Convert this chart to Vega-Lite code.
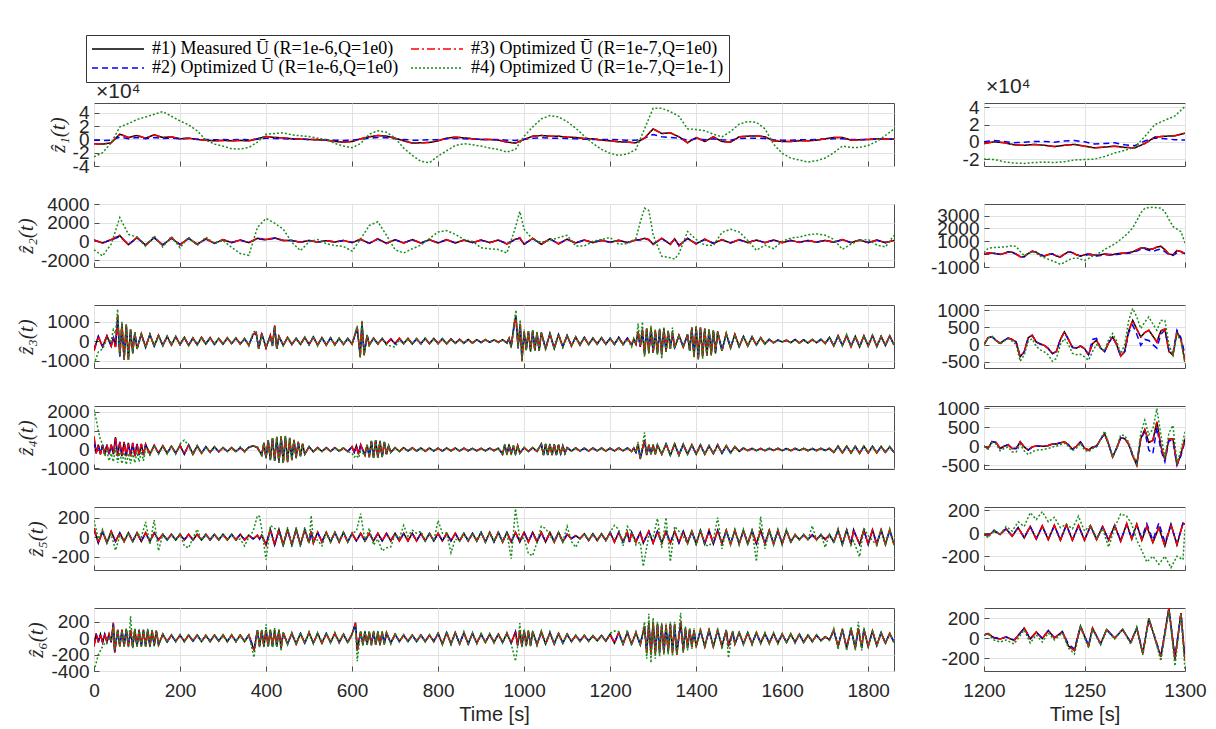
{
"$schema": "https://vega.github.io/schema/vega-lite/v6.json",
"background": "white",
"padding": {"left": 14, "top": 34, "right": 0, "bottom": 0},
"config": {
  "locale": {"number": {"decimal": ".", "thousands": "", "grouping": [3], "currency": ["$", ""], "minus": "-"}},
  "view": {"stroke": "#4d4d4d", "strokeWidth": 1},
  "axis": {"domain": false, "grid": true, "gridColor": "#e2e2e2", "gridWidth": 1, "tickColor": "#4d4d4d", "tickSize": -5, "labelFont": "Liberation Sans", "labelFontSize": 19, "labelColor": "#262626", "labelOverlap": false, "labelFlush": false, "titleColor": "#262626", "titleFontWeight": "normal"},
  "axisY": {"labelPadding": 10, "titleFont": "Liberation Serif", "titleFontStyle": "italic", "titleFontSize": 21, "titlePadding": 4},
  "axisX": {"labelPadding": 15, "titleFont": "Liberation Sans", "titleFontSize": 20, "titlePadding": 4},
  "legend": {"orient": "none", "legendX": -8, "legendY": -68, "columns": 2, "labelFont": "Liberation Serif", "labelFontSize": 18, "labelColor": "#000000", "labelLimit": 400, "symbolType": "M-1,0H5.5", "symbolSize": 256, "symbolStrokeWidth": 1.5, "strokeColor": "#333333", "fillColor": "white", "padding": 5, "rowPadding": 1, "columnPadding": 9, "labelOffset": 43, "cornerRadius": 0}
},
"data": {"values": [
{"r":1,"t":0,"a":-0.65,"b":-0.1,"c":-0.65,"d":-2.6},
{"r":1,"t":20,"a":-0.7,"b":-0.15,"c":-0.7,"d":-2.0},
{"r":1,"t":40,"a":-0.5,"b":-0.1,"c":-0.5,"d":-0.5},
{"r":1,"t":60,"a":0.8,"b":0.35,"c":0.8,"d":1.9},
{"r":1,"t":80,"a":0.3,"b":0.1,"c":0.3,"d":2.4},
{"r":1,"t":100,"a":0.6,"b":0.3,"c":0.6,"d":3.0},
{"r":1,"t":120,"a":0.2,"b":0.1,"c":0.2,"d":3.4},
{"r":1,"t":140,"a":0.7,"b":0.3,"c":0.7,"d":3.8},
{"r":1,"t":160,"a":0.3,"b":0.15,"c":0.3,"d":4.2},
{"r":1,"t":180,"a":0.4,"b":0.2,"c":0.4,"d":3.5},
{"r":1,"t":200,"a":0.1,"b":0.1,"c":0.1,"d":2.8},
{"r":1,"t":220,"a":0.2,"b":0.15,"c":0.2,"d":2.2},
{"r":1,"t":240,"a":0.0,"b":0.05,"c":0.0,"d":1.3},
{"r":1,"t":260,"a":-0.1,"b":0.0,"c":-0.1,"d":-0.1},
{"r":1,"t":280,"a":-0.2,"b":-0.05,"c":-0.2,"d":-0.7},
{"r":1,"t":300,"a":-0.15,"b":0.0,"c":-0.15,"d":-1.0},
{"r":1,"t":320,"a":-0.2,"b":-0.05,"c":-0.2,"d":-1.4},
{"r":1,"t":340,"a":-0.15,"b":0.0,"c":-0.15,"d":-1.45},
{"r":1,"t":360,"a":-0.2,"b":-0.05,"c":-0.2,"d":-1.2},
{"r":1,"t":380,"a":0.1,"b":0.05,"c":0.1,"d":-0.4},
{"r":1,"t":400,"a":0.45,"b":0.2,"c":0.45,"d":0.8},
{"r":1,"t":420,"a":0.3,"b":0.15,"c":0.3,"d":0.9},
{"r":1,"t":440,"a":0.25,"b":0.1,"c":0.25,"d":1.0},
{"r":1,"t":460,"a":0.1,"b":0.05,"c":0.1,"d":0.7},
{"r":1,"t":480,"a":0.05,"b":0.05,"c":0.05,"d":0.55},
{"r":1,"t":500,"a":0.0,"b":0.0,"c":0.0,"d":0.45},
{"r":1,"t":520,"a":-0.05,"b":0.0,"c":-0.05,"d":0.2},
{"r":1,"t":540,"a":-0.1,"b":-0.05,"c":-0.1,"d":0.0},
{"r":1,"t":560,"a":-0.3,"b":-0.1,"c":-0.3,"d":-0.6},
{"r":1,"t":580,"a":-0.4,"b":-0.15,"c":-0.4,"d":-1.0},
{"r":1,"t":600,"a":-0.3,"b":-0.1,"c":-0.3,"d":-1.25},
{"r":1,"t":620,"a":0.1,"b":0.05,"c":0.1,"d":-0.6},
{"r":1,"t":640,"a":0.4,"b":0.2,"c":0.4,"d":0.8},
{"r":1,"t":660,"a":0.6,"b":0.3,"c":0.6,"d":1.3},
{"r":1,"t":680,"a":0.5,"b":0.25,"c":0.5,"d":1.1},
{"r":1,"t":700,"a":0.2,"b":0.1,"c":0.2,"d":0.2},
{"r":1,"t":720,"a":-0.2,"b":0.0,"c":-0.2,"d":-1.3},
{"r":1,"t":740,"a":-0.55,"b":-0.1,"c":-0.55,"d":-2.4},
{"r":1,"t":760,"a":-0.5,"b":-0.1,"c":-0.5,"d":-3.3},
{"r":1,"t":780,"a":-0.45,"b":-0.05,"c":-0.45,"d":-3.5},
{"r":1,"t":800,"a":-0.2,"b":0.0,"c":-0.2,"d":-2.5},
{"r":1,"t":820,"a":0.2,"b":0.1,"c":0.2,"d":-1.7},
{"r":1,"t":840,"a":0.35,"b":0.15,"c":0.35,"d":-0.9},
{"r":1,"t":860,"a":0.25,"b":0.1,"c":0.25,"d":-0.65},
{"r":1,"t":880,"a":0.1,"b":0.05,"c":0.1,"d":-0.8},
{"r":1,"t":900,"a":0.0,"b":0.0,"c":0.0,"d":-1.0},
{"r":1,"t":920,"a":0.0,"b":0.0,"c":0.0,"d":-1.3},
{"r":1,"t":940,"a":-0.1,"b":0.0,"c":-0.1,"d":-1.5},
{"r":1,"t":960,"a":-0.4,"b":-0.1,"c":-0.4,"d":-1.9},
{"r":1,"t":980,"a":-0.55,"b":-0.15,"c":-0.55,"d":-1.5},
{"r":1,"t":1000,"a":0.0,"b":0.05,"c":0.0,"d":0.5},
{"r":1,"t":1020,"a":0.5,"b":0.2,"c":0.5,"d":1.9},
{"r":1,"t":1040,"a":0.6,"b":0.25,"c":0.6,"d":3.1},
{"r":1,"t":1060,"a":0.5,"b":0.2,"c":0.5,"d":3.6},
{"r":1,"t":1080,"a":0.5,"b":0.2,"c":0.5,"d":3.4},
{"r":1,"t":1100,"a":0.35,"b":0.15,"c":0.35,"d":2.7},
{"r":1,"t":1120,"a":0.3,"b":0.1,"c":0.3,"d":1.7},
{"r":1,"t":1140,"a":0.15,"b":0.05,"c":0.15,"d":0.5},
{"r":1,"t":1160,"a":0.1,"b":0.0,"c":0.1,"d":-0.6},
{"r":1,"t":1180,"a":-0.1,"b":0.0,"c":-0.1,"d":-1.5},
{"r":1,"t":1200,"a":-0.2,"b":0.0,"c":-0.2,"d":-2.1},
{"r":1,"t":1220,"a":-0.35,"b":-0.05,"c":-0.35,"d":-2.4},
{"r":1,"t":1240,"a":-0.4,"b":-0.1,"c":-0.4,"d":-2.2},
{"r":1,"t":1260,"a":-0.5,"b":-0.1,"c":-0.5,"d":-1.5},
{"r":1,"t":1280,"a":0.2,"b":0.2,"c":0.2,"d":1.6},
{"r":1,"t":1300,"a":1.6,"b":0.75,"c":1.6,"d":4.7},
{"r":1,"t":1320,"a":0.9,"b":0.4,"c":0.9,"d":4.7},
{"r":1,"t":1340,"a":1.0,"b":0.3,"c":1.0,"d":4.2},
{"r":1,"t":1360,"a":0.4,"b":0.2,"c":0.4,"d":3.5},
{"r":1,"t":1380,"a":-0.5,"b":-0.1,"c":-0.5,"d":1.6},
{"r":1,"t":1400,"a":0.3,"b":0.1,"c":0.3,"d":1.5},
{"r":1,"t":1420,"a":-0.3,"b":-0.05,"c":-0.3,"d":1.3},
{"r":1,"t":1440,"a":0.4,"b":0.1,"c":0.4,"d":0.8},
{"r":1,"t":1460,"a":-0.3,"b":-0.05,"c":-0.3,"d":0.4},
{"r":1,"t":1480,"a":-0.4,"b":-0.1,"c":-0.4,"d":1.2},
{"r":1,"t":1500,"a":0.4,"b":0.15,"c":0.4,"d":2.3},
{"r":1,"t":1520,"a":0.5,"b":0.2,"c":0.5,"d":2.7},
{"r":1,"t":1540,"a":0.55,"b":0.2,"c":0.55,"d":2.6},
{"r":1,"t":1560,"a":0.4,"b":0.15,"c":0.4,"d":1.6},
{"r":1,"t":1580,"a":-0.2,"b":-0.05,"c":-0.2,"d":-0.7},
{"r":1,"t":1600,"a":-0.3,"b":-0.1,"c":-0.3,"d":-2.1},
{"r":1,"t":1620,"a":-0.3,"b":-0.1,"c":-0.3,"d":-2.8},
{"r":1,"t":1640,"a":-0.2,"b":-0.05,"c":-0.2,"d":-3.1},
{"r":1,"t":1660,"a":-0.2,"b":-0.05,"c":-0.2,"d":-3.4},
{"r":1,"t":1680,"a":-0.1,"b":0.0,"c":-0.1,"d":-3.2},
{"r":1,"t":1700,"a":0.1,"b":0.05,"c":0.1,"d":-2.8},
{"r":1,"t":1720,"a":0.3,"b":0.1,"c":0.3,"d":-2.0},
{"r":1,"t":1740,"a":0.3,"b":0.1,"c":0.3,"d":-1.0},
{"r":1,"t":1760,"a":-0.1,"b":0.0,"c":-0.1,"d":-1.2},
{"r":1,"t":1780,"a":-0.05,"b":0.0,"c":-0.05,"d":-1.2},
{"r":1,"t":1800,"a":0.0,"b":0.0,"c":0.0,"d":-0.9},
{"r":1,"t":1820,"a":0.1,"b":0.05,"c":0.1,"d":-0.3},
{"r":1,"t":1840,"a":0.05,"b":0.05,"c":0.05,"d":0.6},
{"r":1,"t":1860,"a":0.1,"b":0.05,"c":0.1,"d":1.6},

{"r":7,"t":1200,"a":-0.2,"b":0.0,"c":-0.2,"d":-2.0},
{"r":7,"t":1205,"a":0.0,"b":0.15,"c":0.0,"d":-2.05},
{"r":7,"t":1210,"a":-0.1,"b":0.05,"c":-0.1,"d":-2.3},
{"r":7,"t":1215,"a":-0.35,"b":-0.1,"c":-0.35,"d":-2.45},
{"r":7,"t":1220,"a":-0.4,"b":-0.05,"c":-0.4,"d":-2.5},
{"r":7,"t":1225,"a":-0.3,"b":0.05,"c":-0.3,"d":-2.4},
{"r":7,"t":1230,"a":-0.4,"b":0.05,"c":-0.4,"d":-2.35},
{"r":7,"t":1235,"a":-0.55,"b":-0.05,"c":-0.55,"d":-2.4},
{"r":7,"t":1240,"a":-0.4,"b":0.1,"c":-0.4,"d":-2.3},
{"r":7,"t":1245,"a":-0.3,"b":0.15,"c":-0.3,"d":-2.1},
{"r":7,"t":1250,"a":-0.5,"b":0.0,"c":-0.5,"d":-2.05},
{"r":7,"t":1255,"a":-0.7,"b":-0.25,"c":-0.7,"d":-2.0},
{"r":7,"t":1260,"a":-0.6,"b":-0.2,"c":-0.6,"d":-1.7},
{"r":7,"t":1265,"a":-0.5,"b":-0.1,"c":-0.5,"d":-1.3},
{"r":7,"t":1270,"a":-0.65,"b":-0.35,"c":-0.65,"d":-1.0},
{"r":7,"t":1275,"a":-0.7,"b":-0.45,"c":-0.7,"d":-0.6},
{"r":7,"t":1280,"a":-0.2,"b":0.1,"c":-0.2,"d":0.6},
{"r":7,"t":1285,"a":0.55,"b":0.45,"c":0.55,"d":2.0},
{"r":7,"t":1290,"a":0.65,"b":0.35,"c":0.65,"d":2.5},
{"r":7,"t":1295,"a":0.7,"b":0.25,"c":0.7,"d":3.0},
{"r":7,"t":1300,"a":1.0,"b":0.2,"c":1.0,"d":4.1},

{"r":2,"t":0,"a":140,"b":120,"c":150,"d":-900},
{"r":2,"t":20,"a":-180,"b":-160,"c":-200,"d":-1570},
{"r":2,"t":40,"a":180,"b":160,"c":200,"d":-300},
{"r":2,"t":60,"a":600,"b":500,"c":650,"d":2550},
{"r":2,"t":80,"a":-360,"b":-320,"c":-400,"d":750},
{"r":2,"t":100,"a":400,"b":360,"c":450,"d":450},
{"r":2,"t":120,"a":-400,"b":-360,"c":-450,"d":-550},
{"r":2,"t":140,"a":400,"b":360,"c":450,"d":600},
{"r":2,"t":160,"a":-400,"b":-360,"c":-450,"d":-600},
{"r":2,"t":180,"a":360,"b":320,"c":400,"d":550},
{"r":2,"t":200,"a":-360,"b":-320,"c":-400,"d":-700},
{"r":2,"t":220,"a":320,"b":280,"c":350,"d":450},
{"r":2,"t":240,"a":-320,"b":-280,"c":-350,"d":-450},
{"r":2,"t":260,"a":270,"b":240,"c":300,"d":450},
{"r":2,"t":280,"a":-230,"b":-200,"c":-250,"d":-200},
{"r":2,"t":300,"a":180,"b":160,"c":200,"d":100},
{"r":2,"t":320,"a":-140,"b":-120,"c":-150,"d":-650},
{"r":2,"t":340,"a":140,"b":120,"c":150,"d":-1300},
{"r":2,"t":360,"a":-140,"b":-120,"c":-150,"d":-1500},
{"r":2,"t":380,"a":320,"b":280,"c":350,"d":1500},
{"r":2,"t":400,"a":180,"b":160,"c":200,"d":2450},
{"r":2,"t":420,"a":360,"b":320,"c":400,"d":1950},
{"r":2,"t":440,"a":90,"b":80,"c":100,"d":1300},
{"r":2,"t":460,"a":90,"b":80,"c":100,"d":-100},
{"r":2,"t":480,"a":-90,"b":-80,"c":-100,"d":-1000},
{"r":2,"t":500,"a":90,"b":80,"c":100,"d":-50},
{"r":2,"t":520,"a":-90,"b":-80,"c":-100,"d":200},
{"r":2,"t":540,"a":70,"b":60,"c":80,"d":-250},
{"r":2,"t":560,"a":-70,"b":-60,"c":-80,"d":-450},
{"r":2,"t":580,"a":90,"b":80,"c":100,"d":-550},
{"r":2,"t":600,"a":-140,"b":-120,"c":-150,"d":-1050},
{"r":2,"t":620,"a":230,"b":200,"c":250,"d":250},
{"r":2,"t":640,"a":-230,"b":-200,"c":-250,"d":1700},
{"r":2,"t":660,"a":270,"b":240,"c":300,"d":2100},
{"r":2,"t":680,"a":-230,"b":-200,"c":-250,"d":650},
{"r":2,"t":700,"a":180,"b":160,"c":200,"d":-900},
{"r":2,"t":720,"a":-180,"b":-160,"c":-200,"d":-1250},
{"r":2,"t":740,"a":180,"b":160,"c":200,"d":-800},
{"r":2,"t":760,"a":-180,"b":-160,"c":-200,"d":-400},
{"r":2,"t":780,"a":180,"b":160,"c":200,"d":300},
{"r":2,"t":800,"a":-180,"b":-160,"c":-200,"d":1000},
{"r":2,"t":820,"a":180,"b":160,"c":200,"d":1150},
{"r":2,"t":840,"a":-180,"b":-160,"c":-200,"d":750},
{"r":2,"t":860,"a":140,"b":120,"c":150,"d":200},
{"r":2,"t":880,"a":-140,"b":-120,"c":-150,"d":0},
{"r":2,"t":900,"a":140,"b":120,"c":150,"d":-700},
{"r":2,"t":920,"a":-140,"b":-120,"c":-150,"d":-800},
{"r":2,"t":940,"a":140,"b":120,"c":150,"d":-870},
{"r":2,"t":960,"a":-270,"b":-240,"c":-300,"d":-1250},
{"r":2,"t":980,"a":230,"b":200,"c":250,"d":1500},
{"r":2,"t":990,"a":360,"b":320,"c":400,"d":3200},
{"r":2,"t":1000,"a":-320,"b":-280,"c":-350,"d":1300},
{"r":2,"t":1020,"a":320,"b":280,"c":350,"d":200},
{"r":2,"t":1040,"a":-320,"b":-280,"c":-350,"d":-100},
{"r":2,"t":1060,"a":270,"b":240,"c":300,"d":100},
{"r":2,"t":1080,"a":-270,"b":-240,"c":-300,"d":400},
{"r":2,"t":1100,"a":230,"b":200,"c":250,"d":640},
{"r":2,"t":1120,"a":-180,"b":-160,"c":-200,"d":-500},
{"r":2,"t":1140,"a":140,"b":120,"c":150,"d":-500},
{"r":2,"t":1160,"a":-140,"b":-120,"c":-150,"d":0},
{"r":2,"t":1180,"a":110,"b":100,"c":120,"d":200},
{"r":2,"t":1200,"a":-110,"b":-100,"c":-120,"d":400},
{"r":2,"t":1220,"a":110,"b":100,"c":120,"d":-300},
{"r":2,"t":1240,"a":-140,"b":-120,"c":-150,"d":-250},
{"r":2,"t":1260,"a":140,"b":120,"c":150,"d":300},
{"r":2,"t":1270,"a":180,"b":160,"c":200,"d":2070},
{"r":2,"t":1280,"a":320,"b":280,"c":350,"d":3550},
{"r":2,"t":1290,"a":180,"b":160,"c":200,"d":3300},
{"r":2,"t":1300,"a":-320,"b":-280,"c":-350,"d":700},
{"r":2,"t":1320,"a":320,"b":280,"c":350,"d":-1600},
{"r":2,"t":1340,"a":-320,"b":-280,"c":-350,"d":-1750},
{"r":2,"t":1350,"a":270,"b":240,"c":300,"d":-1900},
{"r":2,"t":1360,"a":-450,"b":-400,"c":-500,"d":-1300},
{"r":2,"t":1380,"a":320,"b":280,"c":350,"d":1050},
{"r":2,"t":1400,"a":-270,"b":-240,"c":-300,"d":200},
{"r":2,"t":1420,"a":230,"b":200,"c":250,"d":-400},
{"r":2,"t":1440,"a":-230,"b":-200,"c":-250,"d":-450},
{"r":2,"t":1460,"a":180,"b":160,"c":200,"d":950},
{"r":2,"t":1480,"a":-180,"b":-160,"c":-200,"d":1300},
{"r":2,"t":1500,"a":180,"b":160,"c":200,"d":1000},
{"r":2,"t":1520,"a":-140,"b":-120,"c":-150,"d":100},
{"r":2,"t":1540,"a":140,"b":120,"c":150,"d":-950},
{"r":2,"t":1560,"a":-140,"b":-120,"c":-150,"d":-400},
{"r":2,"t":1580,"a":140,"b":120,"c":150,"d":-785},
{"r":2,"t":1600,"a":-140,"b":-120,"c":-150,"d":0},
{"r":2,"t":1620,"a":110,"b":100,"c":120,"d":350},
{"r":2,"t":1640,"a":-110,"b":-100,"c":-120,"d":460},
{"r":2,"t":1660,"a":90,"b":80,"c":100,"d":700},
{"r":2,"t":1680,"a":-90,"b":-80,"c":-100,"d":800},
{"r":2,"t":1700,"a":90,"b":80,"c":100,"d":650},
{"r":2,"t":1720,"a":-90,"b":-80,"c":-100,"d":200},
{"r":2,"t":1740,"a":180,"b":160,"c":200,"d":-850},
{"r":2,"t":1760,"a":-140,"b":-120,"c":-150,"d":-300},
{"r":2,"t":1780,"a":140,"b":120,"c":150,"d":100},
{"r":2,"t":1800,"a":-140,"b":-120,"c":-150,"d":200},
{"r":2,"t":1820,"a":140,"b":120,"c":150,"d":-400},
{"r":2,"t":1840,"a":-140,"b":-120,"c":-150,"d":-600},
{"r":2,"t":1860,"a":90,"b":80,"c":100,"d":640},

{"r":8,"t":1200,"a":0,"b":0,"c":0,"d":100},
{"r":8,"t":1202,"a":80,"b":80,"c":80,"d":450},
{"r":8,"t":1204,"a":90,"b":90,"c":90,"d":500},
{"r":8,"t":1206,"a":40,"b":40,"c":40,"d":520},
{"r":8,"t":1208,"a":-20,"b":-20,"c":-20,"d":540},
{"r":8,"t":1210,"a":60,"b":60,"c":60,"d":560},
{"r":8,"t":1212,"a":170,"b":170,"c":170,"d":600},
{"r":8,"t":1214,"a":150,"b":150,"c":150,"d":650},
{"r":8,"t":1216,"a":0,"b":0,"c":0,"d":600},
{"r":8,"t":1218,"a":-200,"b":-200,"c":-200,"d":200},
{"r":8,"t":1220,"a":-200,"b":-200,"c":-200,"d":-100},
{"r":8,"t":1222,"a":50,"b":50,"c":50,"d":50},
{"r":8,"t":1224,"a":230,"b":230,"c":230,"d":180},
{"r":8,"t":1226,"a":150,"b":150,"c":150,"d":80},
{"r":8,"t":1228,"a":-50,"b":-50,"c":-50,"d":-150},
{"r":8,"t":1230,"a":-150,"b":-150,"c":-150,"d":-280},
{"r":8,"t":1232,"a":-30,"b":-30,"c":-30,"d":-400},
{"r":8,"t":1234,"a":20,"b":20,"c":20,"d":-520},
{"r":8,"t":1236,"a":-150,"b":-150,"c":-150,"d":-650},
{"r":8,"t":1238,"a":-220,"b":-220,"c":-220,"d":-790},
{"r":8,"t":1240,"a":0,"b":0,"c":0,"d":-650},
{"r":8,"t":1242,"a":180,"b":180,"c":180,"d":-450},
{"r":8,"t":1244,"a":120,"b":120,"c":120,"d":-350},
{"r":8,"t":1246,"a":-50,"b":-50,"c":-50,"d":-280},
{"r":8,"t":1248,"a":-150,"b":-150,"c":-150,"d":-400},
{"r":8,"t":1250,"a":-60,"b":-110,"c":-60,"d":-490},
{"r":8,"t":1252,"a":20,"b":-30,"c":20,"d":-350},
{"r":8,"t":1254,"a":-40,"b":-90,"c":-40,"d":-150},
{"r":8,"t":1256,"a":-100,"b":-150,"c":-100,"d":0},
{"r":8,"t":1258,"a":-50,"b":-100,"c":-50,"d":150},
{"r":8,"t":1260,"a":20,"b":-30,"c":20,"d":350},
{"r":8,"t":1262,"a":-20,"b":-70,"c":-20,"d":530},
{"r":8,"t":1264,"a":-40,"b":-90,"c":-40,"d":700},
{"r":8,"t":1266,"a":30,"b":-20,"c":30,"d":900},
{"r":8,"t":1268,"a":60,"b":10,"c":60,"d":1150},
{"r":8,"t":1270,"a":90,"b":40,"c":90,"d":1400},
{"r":8,"t":1272,"a":120,"b":70,"c":120,"d":1700},
{"r":8,"t":1274,"a":180,"b":130,"c":180,"d":2050},
{"r":8,"t":1276,"a":330,"b":250,"c":330,"d":2600},
{"r":8,"t":1278,"a":470,"b":380,"c":470,"d":3200},
{"r":8,"t":1280,"a":470,"b":400,"c":470,"d":3560},
{"r":8,"t":1282,"a":380,"b":300,"c":380,"d":3620},
{"r":8,"t":1284,"a":400,"b":200,"c":400,"d":3640},
{"r":8,"t":1286,"a":550,"b":320,"c":550,"d":3600},
{"r":8,"t":1288,"a":610,"b":400,"c":610,"d":3580},
{"r":8,"t":1290,"a":350,"b":200,"c":350,"d":3300},
{"r":8,"t":1292,"a":0,"b":-50,"c":0,"d":2700},
{"r":8,"t":1294,"a":-50,"b":-100,"c":-50,"d":2150},
{"r":8,"t":1296,"a":280,"b":100,"c":280,"d":1950},
{"r":8,"t":1298,"a":200,"b":150,"c":200,"d":1750},
{"r":8,"t":1300,"a":30,"b":50,"c":30,"d":870},

{"r":3,"t":0,"a":-500,"b":-400,"c":-500,"d":-1200},
{"r":3,"t":10,"a":250,"b":225,"c":250,"d":-550},
{"r":3,"t":20,"a":-300,"b":-270,"c":-300,"d":-400},
{"r":3,"t":30,"a":280,"b":250,"c":280,"d":100},
{"r":3,"t":40,"a":-250,"b":-225,"c":-250,"d":0},
{"r":3,"t":45,"a":200,"b":180,"c":200,"d":600},
{"r":3,"t":50,"a":-300,"b":-270,"c":-300,"d":400},
{"r":3,"t":55,"a":1300,"b":1100,"c":1300,"d":1650},
{"r":3,"t":60,"a":-750,"b":-800,"c":-750,"d":-700},
{"r":3,"t":65,"a":900,"b":800,"c":900,"d":1000},
{"r":3,"t":70,"a":-950,"b":-850,"c":-950,"d":-950},
{"r":3,"t":75,"a":850,"b":760,"c":850,"d":850},
{"r":3,"t":80,"a":-950,"b":-850,"c":-950,"d":-1000},
{"r":3,"t":85,"a":600,"b":540,"c":600,"d":650},
{"r":3,"t":90,"a":-600,"b":-540,"c":-600,"d":-650},
{"r":3,"t":95,"a":450,"b":400,"c":450,"d":470},
{"r":3,"t":100,"a":-400,"b":-360,"c":-400,"d":-420},
{"r":3,"t":110,"a":380,"b":340,"c":380,"d":400},
{"r":3,"t":120,"a":-320,"b":-290,"c":-320,"d":-340},
{"r":3,"t":130,"a":350,"b":315,"c":350,"d":360},
{"r":3,"t":140,"a":-260,"b":-235,"c":-260,"d":-270},
{"r":3,"t":150,"a":300,"b":270,"c":300,"d":310},
{"r":3,"t":160,"a":-230,"b":-205,"c":-230,"d":-240},
{"r":3,"t":170,"a":250,"b":225,"c":250,"d":260},
{"r":3,"t":180,"a":-200,"b":-180,"c":-200,"d":-210},
{"r":3,"t":190,"a":240,"b":215,"c":240,"d":250},
{"r":3,"t":200,"a":-180,"b":-160,"c":-180,"d":-190},
{"r":3,"t":210,"a":200,"b":180,"c":200,"d":210},
{"r":3,"t":220,"a":-220,"b":-200,"c":-220,"d":-230},
{"r":3,"t":230,"a":160,"b":145,"c":160,"d":170},
{"r":3,"t":240,"a":-190,"b":-170,"c":-190,"d":-200},
{"r":3,"t":250,"a":200,"b":180,"c":200,"d":210},
{"r":3,"t":260,"a":-150,"b":-135,"c":-150,"d":-160},
{"r":3,"t":270,"a":180,"b":160,"c":180,"d":190},
{"r":3,"t":280,"a":-170,"b":-155,"c":-170,"d":-180},
{"r":3,"t":290,"a":140,"b":125,"c":140,"d":150},
{"r":3,"t":300,"a":-160,"b":-145,"c":-160,"d":-170},
{"r":3,"t":310,"a":170,"b":155,"c":170,"d":180},
{"r":3,"t":320,"a":-120,"b":-110,"c":-120,"d":-130},
{"r":3,"t":330,"a":160,"b":145,"c":160,"d":170},
{"r":3,"t":340,"a":-150,"b":-135,"c":-150,"d":-160},
{"r":3,"t":350,"a":130,"b":115,"c":130,"d":140},
{"r":3,"t":360,"a":-200,"b":-180,"c":-200,"d":-250},
{"r":3,"t":370,"a":350,"b":315,"c":350,"d":450},
{"r":3,"t":377,"a":450,"b":400,"c":450,"d":550},
{"r":3,"t":383,"a":-400,"b":-360,"c":-400,"d":-450},
{"r":3,"t":390,"a":400,"b":360,"c":400,"d":350},
{"r":3,"t":400,"a":-350,"b":-315,"c":-350,"d":-300},
{"r":3,"t":410,"a":300,"b":270,"c":300,"d":200},
{"r":3,"t":415,"a":-250,"b":-225,"c":-250,"d":-250},
{"r":3,"t":420,"a":800,"b":720,"c":800,"d":750},
{"r":3,"t":425,"a":-400,"b":-360,"c":-400,"d":-400},
{"r":3,"t":430,"a":250,"b":225,"c":250,"d":260},
{"r":3,"t":440,"a":-220,"b":-200,"c":-220,"d":-230},
{"r":3,"t":450,"a":200,"b":180,"c":200,"d":210},
{"r":3,"t":460,"a":-180,"b":-160,"c":-180,"d":-190},
{"r":3,"t":470,"a":150,"b":135,"c":150,"d":160},
{"r":3,"t":480,"a":-170,"b":-155,"c":-170,"d":-180},
{"r":3,"t":490,"a":200,"b":180,"c":200,"d":210},
{"r":3,"t":500,"a":-180,"b":-160,"c":-180,"d":-190},
{"r":3,"t":510,"a":220,"b":200,"c":220,"d":260},
{"r":3,"t":520,"a":-200,"b":-180,"c":-200,"d":-260},
{"r":3,"t":530,"a":180,"b":160,"c":180,"d":190},
{"r":3,"t":540,"a":-200,"b":-180,"c":-200,"d":-210},
{"r":3,"t":550,"a":170,"b":155,"c":170,"d":180},
{"r":3,"t":560,"a":-190,"b":-170,"c":-190,"d":-200},
{"r":3,"t":570,"a":150,"b":135,"c":150,"d":160},
{"r":3,"t":580,"a":-170,"b":-155,"c":-170,"d":-180},
{"r":3,"t":590,"a":140,"b":125,"c":140,"d":150},
{"r":3,"t":600,"a":-150,"b":-135,"c":-150,"d":-160},
{"r":3,"t":612,"a":700,"b":630,"c":700,"d":800},
{"r":3,"t":619,"a":-800,"b":-720,"c":-800,"d":-850},
{"r":3,"t":623,"a":1000,"b":900,"c":1000,"d":1050},
{"r":3,"t":628,"a":-700,"b":-630,"c":-700,"d":-750},
{"r":3,"t":635,"a":300,"b":270,"c":300,"d":350},
{"r":3,"t":640,"a":-200,"b":-180,"c":-200,"d":-220},
{"r":3,"t":650,"a":160,"b":145,"c":160,"d":170},
{"r":3,"t":660,"a":-150,"b":-135,"c":-150,"d":-160},
{"r":3,"t":670,"a":140,"b":125,"c":140,"d":150},
{"r":3,"t":680,"a":-150,"b":-135,"c":-150,"d":-200},
{"r":3,"t":690,"a":120,"b":110,"c":120,"d":-250},
{"r":3,"t":700,"a":-140,"b":-125,"c":-140,"d":-300},
{"r":3,"t":710,"a":150,"b":135,"c":150,"d":50},
{"r":3,"t":720,"a":-130,"b":-115,"c":-130,"d":-140},
{"r":3,"t":730,"a":140,"b":125,"c":140,"d":150},
{"r":3,"t":740,"a":-150,"b":-135,"c":-150,"d":-160},
{"r":3,"t":750,"a":130,"b":115,"c":130,"d":140},
{"r":3,"t":760,"a":-140,"b":-125,"c":-140,"d":-150},
{"r":3,"t":770,"a":150,"b":135,"c":150,"d":160},
{"r":3,"t":780,"a":-130,"b":-115,"c":-130,"d":-140},
{"r":3,"t":790,"a":140,"b":125,"c":140,"d":150},
{"r":3,"t":800,"a":-120,"b":-110,"c":-120,"d":-130},
{"r":3,"t":810,"a":130,"b":115,"c":130,"d":140},
{"r":3,"t":820,"a":-140,"b":-125,"c":-140,"d":-150},
{"r":3,"t":830,"a":120,"b":110,"c":120,"d":130},
{"r":3,"t":840,"a":-110,"b":-100,"c":-110,"d":-120},
{"r":3,"t":850,"a":100,"b":90,"c":100,"d":110},
{"r":3,"t":860,"a":-110,"b":-100,"c":-110,"d":-120},
{"r":3,"t":870,"a":90,"b":80,"c":90,"d":100},
{"r":3,"t":880,"a":-100,"b":-90,"c":-100,"d":-110},
{"r":3,"t":890,"a":80,"b":70,"c":80,"d":90},
{"r":3,"t":900,"a":-70,"b":-65,"c":-70,"d":-80},
{"r":3,"t":910,"a":80,"b":70,"c":80,"d":90},
{"r":3,"t":920,"a":-60,"b":-55,"c":-60,"d":-70},
{"r":3,"t":930,"a":70,"b":65,"c":70,"d":80},
{"r":3,"t":940,"a":-60,"b":-55,"c":-60,"d":-70},
{"r":3,"t":950,"a":80,"b":70,"c":80,"d":90},
{"r":3,"t":960,"a":-100,"b":-90,"c":-100,"d":-110},
{"r":3,"t":965,"a":150,"b":135,"c":150,"d":160},
{"r":3,"t":970,"a":-300,"b":-270,"c":-300,"d":-350},
{"r":3,"t":977,"a":900,"b":800,"c":900,"d":1000},
{"r":3,"t":981,"a":1300,"b":1150,"c":1300,"d":1600},
{"r":3,"t":986,"a":-300,"b":-350,"c":-300,"d":-400},
{"r":3,"t":991,"a":900,"b":800,"c":900,"d":1100},
{"r":3,"t":995,"a":-1000,"b":-900,"c":-1000,"d":-1050},
{"r":3,"t":1000,"a":500,"b":450,"c":500,"d":600},
{"r":3,"t":1005,"a":-450,"b":-405,"c":-450,"d":-500},
{"r":3,"t":1010,"a":520,"b":470,"c":520,"d":560},
{"r":3,"t":1015,"a":-500,"b":-450,"c":-500,"d":-550},
{"r":3,"t":1020,"a":550,"b":495,"c":550,"d":600},
{"r":3,"t":1025,"a":-480,"b":-430,"c":-480,"d":-500},
{"r":3,"t":1030,"a":450,"b":405,"c":450,"d":480},
{"r":3,"t":1035,"a":-500,"b":-450,"c":-500,"d":-520},
{"r":3,"t":1040,"a":450,"b":405,"c":450,"d":470},
{"r":3,"t":1050,"a":-400,"b":-360,"c":-400,"d":-450},
{"r":3,"t":1060,"a":400,"b":360,"c":400,"d":420},
{"r":3,"t":1070,"a":-380,"b":-340,"c":-380,"d":-400},
{"r":3,"t":1080,"a":350,"b":315,"c":350,"d":370},
{"r":3,"t":1090,"a":-300,"b":-270,"c":-300,"d":-320},
{"r":3,"t":1100,"a":300,"b":270,"c":300,"d":320},
{"r":3,"t":1110,"a":-250,"b":-225,"c":-250,"d":-260},
{"r":3,"t":1120,"a":220,"b":200,"c":220,"d":230},
{"r":3,"t":1130,"a":-200,"b":-180,"c":-200,"d":-210},
{"r":3,"t":1140,"a":200,"b":180,"c":200,"d":210},
{"r":3,"t":1150,"a":-180,"b":-160,"c":-180,"d":-190},
{"r":3,"t":1160,"a":160,"b":145,"c":160,"d":170},
{"r":3,"t":1170,"a":-150,"b":-135,"c":-150,"d":-160},
{"r":3,"t":1180,"a":180,"b":160,"c":180,"d":190},
{"r":3,"t":1190,"a":-160,"b":-145,"c":-160,"d":-170},
{"r":3,"t":1200,"a":150,"b":135,"c":150,"d":160},
{"r":3,"t":1210,"a":-170,"b":-155,"c":-170,"d":-180},
{"r":3,"t":1220,"a":200,"b":180,"c":200,"d":150},
{"r":3,"t":1230,"a":-180,"b":-160,"c":-180,"d":-200},
{"r":3,"t":1240,"a":160,"b":145,"c":160,"d":100},
{"r":3,"t":1250,"a":-200,"b":-180,"c":-200,"d":-300},
{"r":3,"t":1255,"a":100,"b":90,"c":100,"d":150},
{"r":3,"t":1260,"a":-150,"b":-135,"c":-150,"d":-100},
{"r":3,"t":1265,"a":500,"b":450,"c":500,"d":900},
{"r":3,"t":1270,"a":-300,"b":-270,"c":-300,"d":-200},
{"r":3,"t":1275,"a":600,"b":540,"c":600,"d":1000},
{"r":3,"t":1280,"a":-700,"b":-630,"c":-700,"d":-800},
{"r":3,"t":1285,"a":650,"b":585,"c":650,"d":700},
{"r":3,"t":1290,"a":-600,"b":-540,"c":-600,"d":-650},
{"r":3,"t":1295,"a":700,"b":630,"c":700,"d":800},
{"r":3,"t":1300,"a":-600,"b":-540,"c":-600,"d":-600},
{"r":3,"t":1305,"a":550,"b":495,"c":550,"d":600},
{"r":3,"t":1310,"a":-650,"b":-585,"c":-650,"d":-700},
{"r":3,"t":1315,"a":600,"b":540,"c":600,"d":650},
{"r":3,"t":1320,"a":-700,"b":-630,"c":-700,"d":-900},
{"r":3,"t":1325,"a":650,"b":585,"c":650,"d":700},
{"r":3,"t":1330,"a":-550,"b":-495,"c":-550,"d":-600},
{"r":3,"t":1335,"a":500,"b":450,"c":500,"d":550},
{"r":3,"t":1340,"a":-400,"b":-360,"c":-400,"d":-400},
{"r":3,"t":1345,"a":450,"b":405,"c":450,"d":700},
{"r":3,"t":1350,"a":-350,"b":-315,"c":-350,"d":-350},
{"r":3,"t":1360,"a":300,"b":270,"c":300,"d":300},
{"r":3,"t":1370,"a":-300,"b":-270,"c":-300,"d":-300},
{"r":3,"t":1380,"a":350,"b":315,"c":350,"d":350},
{"r":3,"t":1385,"a":-500,"b":-450,"c":-500,"d":-500},
{"r":3,"t":1390,"a":700,"b":630,"c":700,"d":700},
{"r":3,"t":1395,"a":-800,"b":-720,"c":-800,"d":-850},
{"r":3,"t":1400,"a":750,"b":675,"c":750,"d":780},
{"r":3,"t":1405,"a":-900,"b":-810,"c":-900,"d":-950},
{"r":3,"t":1410,"a":700,"b":630,"c":700,"d":700},
{"r":3,"t":1415,"a":-800,"b":-720,"c":-800,"d":-900},
{"r":3,"t":1420,"a":650,"b":585,"c":650,"d":650},
{"r":3,"t":1425,"a":-750,"b":-675,"c":-750,"d":-800},
{"r":3,"t":1430,"a":600,"b":540,"c":600,"d":600},
{"r":3,"t":1435,"a":-700,"b":-630,"c":-700,"d":-750},
{"r":3,"t":1440,"a":550,"b":495,"c":550,"d":550},
{"r":3,"t":1445,"a":-600,"b":-540,"c":-600,"d":-650},
{"r":3,"t":1450,"a":500,"b":450,"c":500,"d":500},
{"r":3,"t":1460,"a":-500,"b":-450,"c":-500,"d":-500},
{"r":3,"t":1470,"a":400,"b":360,"c":400,"d":400},
{"r":3,"t":1480,"a":-350,"b":-315,"c":-350,"d":-350},
{"r":3,"t":1490,"a":350,"b":315,"c":350,"d":350},
{"r":3,"t":1500,"a":-280,"b":-250,"c":-280,"d":-280},
{"r":3,"t":1510,"a":250,"b":225,"c":250,"d":250},
{"r":3,"t":1520,"a":-250,"b":-225,"c":-250,"d":-250},
{"r":3,"t":1530,"a":230,"b":205,"c":230,"d":230},
{"r":3,"t":1540,"a":-200,"b":-180,"c":-200,"d":-200},
{"r":3,"t":1550,"a":180,"b":160,"c":180,"d":180},
{"r":3,"t":1560,"a":-150,"b":-135,"c":-150,"d":-150},
{"r":3,"t":1570,"a":100,"b":90,"c":100,"d":100},
{"r":3,"t":1580,"a":-90,"b":-80,"c":-90,"d":-90},
{"r":3,"t":1590,"a":60,"b":55,"c":60,"d":60},
{"r":3,"t":1600,"a":-40,"b":-35,"c":-40,"d":-40},
{"r":3,"t":1610,"a":50,"b":45,"c":50,"d":50},
{"r":3,"t":1620,"a":-80,"b":-70,"c":-80,"d":-80},
{"r":3,"t":1630,"a":90,"b":80,"c":90,"d":90},
{"r":3,"t":1640,"a":-100,"b":-90,"c":-100,"d":-100},
{"r":3,"t":1650,"a":80,"b":70,"c":80,"d":80},
{"r":3,"t":1660,"a":-100,"b":-90,"c":-100,"d":-100},
{"r":3,"t":1670,"a":90,"b":80,"c":90,"d":90},
{"r":3,"t":1680,"a":-80,"b":-70,"c":-80,"d":-80},
{"r":3,"t":1690,"a":100,"b":90,"c":100,"d":100},
{"r":3,"t":1700,"a":-120,"b":-110,"c":-120,"d":-120},
{"r":3,"t":1710,"a":200,"b":180,"c":200,"d":200},
{"r":3,"t":1720,"a":-250,"b":-225,"c":-250,"d":-250},
{"r":3,"t":1730,"a":280,"b":250,"c":280,"d":280},
{"r":3,"t":1740,"a":-230,"b":-205,"c":-230,"d":-230},
{"r":3,"t":1750,"a":300,"b":270,"c":300,"d":350},
{"r":3,"t":1760,"a":-280,"b":-250,"c":-280,"d":-300},
{"r":3,"t":1770,"a":250,"b":225,"c":250,"d":250},
{"r":3,"t":1780,"a":-300,"b":-270,"c":-300,"d":-300},
{"r":3,"t":1790,"a":280,"b":250,"c":280,"d":280},
{"r":3,"t":1800,"a":-250,"b":-225,"c":-250,"d":-250},
{"r":3,"t":1810,"a":300,"b":270,"c":300,"d":300},
{"r":3,"t":1820,"a":-280,"b":-250,"c":-280,"d":-280},
{"r":3,"t":1830,"a":250,"b":225,"c":250,"d":250},
{"r":3,"t":1840,"a":-220,"b":-200,"c":-220,"d":-220},
{"r":3,"t":1850,"a":280,"b":250,"c":280,"d":280},
{"r":3,"t":1860,"a":-200,"b":-180,"c":-200,"d":-200},

{"r":9,"t":1200,"a":0,"b":0,"c":0,"d":0},
{"r":9,"t":1202,"a":200,"b":200,"c":200,"d":200},
{"r":9,"t":1204,"a":230,"b":230,"c":230,"d":230},
{"r":9,"t":1206,"a":125,"b":125,"c":125,"d":100},
{"r":9,"t":1208,"a":40,"b":40,"c":40,"d":20},
{"r":9,"t":1210,"a":120,"b":120,"c":120,"d":100},
{"r":9,"t":1212,"a":190,"b":190,"c":190,"d":170},
{"r":9,"t":1214,"a":150,"b":150,"c":150,"d":100},
{"r":9,"t":1216,"a":75,"b":75,"c":75,"d":0},
{"r":9,"t":1218,"a":-350,"b":-350,"c":-350,"d":-480},
{"r":9,"t":1220,"a":-210,"b":-210,"c":-210,"d":-300},
{"r":9,"t":1222,"a":200,"b":200,"c":200,"d":100},
{"r":9,"t":1224,"a":270,"b":270,"c":270,"d":170},
{"r":9,"t":1226,"a":75,"b":75,"c":75,"d":-50},
{"r":9,"t":1228,"a":20,"b":20,"c":20,"d":-150},
{"r":9,"t":1230,"a":-20,"b":-20,"c":-20,"d":-210},
{"r":9,"t":1232,"a":-115,"b":-115,"c":-115,"d":-300},
{"r":9,"t":1234,"a":-260,"b":-260,"c":-260,"d":-480},
{"r":9,"t":1236,"a":-200,"b":-200,"c":-200,"d":-400},
{"r":9,"t":1238,"a":150,"b":150,"c":150,"d":0},
{"r":9,"t":1240,"a":370,"b":370,"c":370,"d":175},
{"r":9,"t":1242,"a":150,"b":150,"c":150,"d":0},
{"r":9,"t":1244,"a":-80,"b":-80,"c":-80,"d":-250},
{"r":9,"t":1246,"a":-100,"b":-100,"c":-100,"d":-290},
{"r":9,"t":1248,"a":-40,"b":-40,"c":-40,"d":-280},
{"r":9,"t":1250,"a":-115,"b":-115,"c":-115,"d":-350},
{"r":9,"t":1252,"a":-290,"b":-290,"c":-290,"d":-450},
{"r":9,"t":1254,"a":30,"b":150,"c":30,"d":-200},
{"r":9,"t":1256,"a":125,"b":180,"c":125,"d":0},
{"r":9,"t":1258,"a":-100,"b":-100,"c":-100,"d":-100},
{"r":9,"t":1260,"a":-200,"b":-200,"c":-200,"d":-170},
{"r":9,"t":1262,"a":50,"b":50,"c":50,"d":150},
{"r":9,"t":1264,"a":220,"b":220,"c":220,"d":320},
{"r":9,"t":1266,"a":0,"b":0,"c":0,"d":100},
{"r":9,"t":1268,"a":-330,"b":-330,"c":-330,"d":-260},
{"r":9,"t":1270,"a":-200,"b":-200,"c":-200,"d":0},
{"r":9,"t":1272,"a":400,"b":350,"c":400,"d":700},
{"r":9,"t":1274,"a":700,"b":560,"c":700,"d":1045},
{"r":9,"t":1276,"a":450,"b":300,"c":450,"d":800},
{"r":9,"t":1278,"a":220,"b":-20,"c":220,"d":465},
{"r":9,"t":1280,"a":350,"b":150,"c":350,"d":650},
{"r":9,"t":1282,"a":415,"b":120,"c":415,"d":800},
{"r":9,"t":1284,"a":250,"b":0,"c":250,"d":600},
{"r":9,"t":1286,"a":75,"b":-100,"c":75,"d":415},
{"r":9,"t":1288,"a":400,"b":300,"c":400,"d":700},
{"r":9,"t":1290,"a":450,"b":420,"c":450,"d":700},
{"r":9,"t":1292,"a":-200,"b":-150,"c":-200,"d":0},
{"r":9,"t":1294,"a":-300,"b":-250,"c":-300,"d":-310},
{"r":9,"t":1296,"a":370,"b":415,"c":370,"d":300},
{"r":9,"t":1298,"a":150,"b":200,"c":150,"d":100},
{"r":9,"t":1300,"a":-500,"b":-300,"c":-500,"d":-550},

{"r":4,"t":0,"a":650,"b":400,"c":700,"d":2100},
{"r":4,"t":5,"a":-200,"b":-150,"c":-200,"d":1600},
{"r":4,"t":10,"a":250,"b":225,"c":250,"d":1000},
{"r":4,"t":15,"a":-250,"b":-225,"c":-250,"d":500},
{"r":4,"t":20,"a":250,"b":225,"c":250,"d":300},
{"r":4,"t":25,"a":-250,"b":-225,"c":-250,"d":-350},
{"r":4,"t":30,"a":250,"b":225,"c":250,"d":-100},
{"r":4,"t":35,"a":-250,"b":-225,"c":-250,"d":-600},
{"r":4,"t":40,"a":250,"b":225,"c":250,"d":-200},
{"r":4,"t":45,"a":-250,"b":-225,"c":-250,"d":-650},
{"r":4,"t":50,"a":650,"b":580,"c":650,"d":100},
{"r":4,"t":55,"a":-350,"b":-315,"c":-350,"d":-700},
{"r":4,"t":60,"a":400,"b":360,"c":400,"d":-150},
{"r":4,"t":65,"a":-350,"b":-315,"c":-350,"d":-750},
{"r":4,"t":70,"a":400,"b":360,"c":400,"d":-150},
{"r":4,"t":75,"a":-350,"b":-315,"c":-350,"d":-800},
{"r":4,"t":80,"a":350,"b":315,"c":350,"d":-200},
{"r":4,"t":85,"a":-350,"b":-315,"c":-350,"d":-750},
{"r":4,"t":90,"a":350,"b":315,"c":350,"d":-150},
{"r":4,"t":95,"a":-350,"b":-315,"c":-350,"d":-700},
{"r":4,"t":100,"a":300,"b":270,"c":300,"d":-150},
{"r":4,"t":105,"a":-300,"b":-270,"c":-300,"d":-650},
{"r":4,"t":110,"a":300,"b":270,"c":300,"d":-100},
{"r":4,"t":115,"a":-300,"b":-270,"c":-300,"d":-600},
{"r":4,"t":120,"a":280,"b":250,"c":280,"d":50},
{"r":4,"t":130,"a":-250,"b":-225,"c":-250,"d":-300},
{"r":4,"t":140,"a":220,"b":200,"c":220,"d":200},
{"r":4,"t":150,"a":-200,"b":-180,"c":-200,"d":-250},
{"r":4,"t":160,"a":200,"b":180,"c":200,"d":150},
{"r":4,"t":170,"a":-200,"b":-180,"c":-200,"d":-250},
{"r":4,"t":180,"a":180,"b":160,"c":180,"d":200},
{"r":4,"t":190,"a":-200,"b":-180,"c":-200,"d":-250},
{"r":4,"t":200,"a":220,"b":200,"c":220,"d":300},
{"r":4,"t":210,"a":-250,"b":-225,"c":-250,"d":500},
{"r":4,"t":220,"a":250,"b":225,"c":250,"d":200},
{"r":4,"t":230,"a":-250,"b":-225,"c":-250,"d":-300},
{"r":4,"t":240,"a":200,"b":180,"c":200,"d":200},
{"r":4,"t":250,"a":-200,"b":-180,"c":-200,"d":-200},
{"r":4,"t":260,"a":150,"b":135,"c":150,"d":150},
{"r":4,"t":270,"a":-150,"b":-135,"c":-150,"d":-150},
{"r":4,"t":280,"a":150,"b":135,"c":150,"d":120},
{"r":4,"t":290,"a":-120,"b":-110,"c":-120,"d":-100},
{"r":4,"t":300,"a":100,"b":90,"c":100,"d":100},
{"r":4,"t":310,"a":-100,"b":-90,"c":-100,"d":-100},
{"r":4,"t":320,"a":100,"b":90,"c":100,"d":120},
{"r":4,"t":330,"a":-100,"b":-90,"c":-100,"d":-150},
{"r":4,"t":340,"a":100,"b":90,"c":100,"d":150},
{"r":4,"t":350,"a":-100,"b":-90,"c":-100,"d":-150},
{"r":4,"t":360,"a":120,"b":110,"c":120,"d":120},
{"r":4,"t":370,"a":200,"b":180,"c":200,"d":200},
{"r":4,"t":380,"a":100,"b":90,"c":100,"d":150},
{"r":4,"t":390,"a":-300,"b":-270,"c":-300,"d":-350},
{"r":4,"t":395,"a":350,"b":315,"c":350,"d":370},
{"r":4,"t":400,"a":-450,"b":-405,"c":-450,"d":-470},
{"r":4,"t":405,"a":500,"b":450,"c":500,"d":520},
{"r":4,"t":410,"a":-550,"b":-500,"c":-550,"d":-580},
{"r":4,"t":415,"a":600,"b":540,"c":600,"d":630},
{"r":4,"t":420,"a":-600,"b":-540,"c":-600,"d":-630},
{"r":4,"t":425,"a":650,"b":585,"c":650,"d":680},
{"r":4,"t":430,"a":-700,"b":-630,"c":-700,"d":-730},
{"r":4,"t":435,"a":700,"b":630,"c":700,"d":730},
{"r":4,"t":440,"a":-700,"b":-630,"c":-700,"d":-730},
{"r":4,"t":445,"a":700,"b":630,"c":700,"d":730},
{"r":4,"t":450,"a":-650,"b":-585,"c":-650,"d":-680},
{"r":4,"t":455,"a":600,"b":540,"c":600,"d":630},
{"r":4,"t":460,"a":-550,"b":-500,"c":-550,"d":-580},
{"r":4,"t":465,"a":500,"b":450,"c":500,"d":520},
{"r":4,"t":470,"a":-450,"b":-405,"c":-450,"d":-470},
{"r":4,"t":475,"a":400,"b":360,"c":400,"d":420},
{"r":4,"t":480,"a":-350,"b":-315,"c":-350,"d":-370},
{"r":4,"t":485,"a":300,"b":270,"c":300,"d":310},
{"r":4,"t":490,"a":-250,"b":-225,"c":-250,"d":-260},
{"r":4,"t":500,"a":150,"b":135,"c":150,"d":160},
{"r":4,"t":510,"a":-120,"b":-110,"c":-120,"d":-130},
{"r":4,"t":520,"a":100,"b":90,"c":100,"d":110},
{"r":4,"t":530,"a":-100,"b":-90,"c":-100,"d":-110},
{"r":4,"t":540,"a":100,"b":90,"c":100,"d":110},
{"r":4,"t":550,"a":-90,"b":-80,"c":-90,"d":-100},
{"r":4,"t":560,"a":100,"b":90,"c":100,"d":110},
{"r":4,"t":570,"a":-80,"b":-70,"c":-80,"d":-90},
{"r":4,"t":580,"a":80,"b":70,"c":80,"d":90},
{"r":4,"t":590,"a":-100,"b":-90,"c":-100,"d":-110},
{"r":4,"t":600,"a":150,"b":135,"c":150,"d":-200},
{"r":4,"t":605,"a":-150,"b":-135,"c":-150,"d":-400},
{"r":4,"t":610,"a":200,"b":180,"c":200,"d":-300},
{"r":4,"t":615,"a":-250,"b":-225,"c":-250,"d":-450},
{"r":4,"t":620,"a":250,"b":225,"c":250,"d":-100},
{"r":4,"t":630,"a":-300,"b":-270,"c":-300,"d":-300},
{"r":4,"t":635,"a":250,"b":225,"c":250,"d":300},
{"r":4,"t":640,"a":-400,"b":-360,"c":-400,"d":-420},
{"r":4,"t":645,"a":450,"b":405,"c":450,"d":470},
{"r":4,"t":650,"a":-450,"b":-405,"c":-450,"d":-470},
{"r":4,"t":655,"a":500,"b":450,"c":500,"d":550},
{"r":4,"t":660,"a":-450,"b":-405,"c":-450,"d":-500},
{"r":4,"t":665,"a":450,"b":405,"c":450,"d":470},
{"r":4,"t":670,"a":-400,"b":-360,"c":-400,"d":-420},
{"r":4,"t":675,"a":400,"b":360,"c":400,"d":450},
{"r":4,"t":680,"a":-250,"b":-225,"c":-250,"d":-260},
{"r":4,"t":685,"a":200,"b":180,"c":200,"d":210},
{"r":4,"t":690,"a":-150,"b":-135,"c":-150,"d":-160},
{"r":4,"t":700,"a":100,"b":90,"c":100,"d":110},
{"r":4,"t":710,"a":-100,"b":-90,"c":-100,"d":-110},
{"r":4,"t":720,"a":100,"b":90,"c":100,"d":110},
{"r":4,"t":730,"a":-80,"b":-70,"c":-80,"d":-90},
{"r":4,"t":740,"a":90,"b":80,"c":90,"d":100},
{"r":4,"t":750,"a":-80,"b":-70,"c":-80,"d":-90},
{"r":4,"t":760,"a":80,"b":70,"c":80,"d":90},
{"r":4,"t":770,"a":-90,"b":-80,"c":-90,"d":-100},
{"r":4,"t":780,"a":80,"b":70,"c":80,"d":90},
{"r":4,"t":790,"a":-80,"b":-70,"c":-80,"d":-90},
{"r":4,"t":800,"a":70,"b":65,"c":70,"d":80},
{"r":4,"t":810,"a":-80,"b":-70,"c":-80,"d":-90},
{"r":4,"t":820,"a":80,"b":70,"c":80,"d":90},
{"r":4,"t":830,"a":-70,"b":-65,"c":-70,"d":-80},
{"r":4,"t":840,"a":80,"b":70,"c":80,"d":90},
{"r":4,"t":850,"a":-80,"b":-70,"c":-80,"d":-90},
{"r":4,"t":860,"a":70,"b":65,"c":70,"d":80},
{"r":4,"t":870,"a":-70,"b":-65,"c":-70,"d":-80},
{"r":4,"t":880,"a":60,"b":55,"c":60,"d":70},
{"r":4,"t":890,"a":-70,"b":-65,"c":-70,"d":-80},
{"r":4,"t":900,"a":60,"b":55,"c":60,"d":70},
{"r":4,"t":910,"a":-70,"b":-65,"c":-70,"d":-80},
{"r":4,"t":920,"a":70,"b":65,"c":70,"d":80},
{"r":4,"t":930,"a":-60,"b":-55,"c":-60,"d":-70},
{"r":4,"t":940,"a":70,"b":65,"c":70,"d":80},
{"r":4,"t":950,"a":-250,"b":-225,"c":-250,"d":-300},
{"r":4,"t":955,"a":250,"b":225,"c":250,"d":300},
{"r":4,"t":960,"a":-250,"b":-225,"c":-250,"d":-300},
{"r":4,"t":965,"a":250,"b":225,"c":250,"d":300},
{"r":4,"t":970,"a":-250,"b":-225,"c":-250,"d":-300},
{"r":4,"t":975,"a":200,"b":180,"c":200,"d":250},
{"r":4,"t":980,"a":-250,"b":-225,"c":-250,"d":-300},
{"r":4,"t":985,"a":200,"b":180,"c":200,"d":250},
{"r":4,"t":990,"a":-200,"b":-180,"c":-200,"d":-200},
{"r":4,"t":1000,"a":100,"b":90,"c":100,"d":110},
{"r":4,"t":1010,"a":-100,"b":-90,"c":-100,"d":-110},
{"r":4,"t":1020,"a":100,"b":90,"c":100,"d":110},
{"r":4,"t":1030,"a":-100,"b":-90,"c":-100,"d":-110},
{"r":4,"t":1040,"a":300,"b":270,"c":300,"d":310},
{"r":4,"t":1045,"a":-300,"b":-270,"c":-300,"d":-310},
{"r":4,"t":1050,"a":300,"b":270,"c":300,"d":310},
{"r":4,"t":1055,"a":-300,"b":-270,"c":-300,"d":-310},
{"r":4,"t":1060,"a":300,"b":270,"c":300,"d":310},
{"r":4,"t":1065,"a":-300,"b":-270,"c":-300,"d":-310},
{"r":4,"t":1070,"a":280,"b":250,"c":280,"d":290},
{"r":4,"t":1075,"a":-300,"b":-270,"c":-300,"d":-310},
{"r":4,"t":1080,"a":250,"b":225,"c":250,"d":260},
{"r":4,"t":1085,"a":-250,"b":-225,"c":-250,"d":-260},
{"r":4,"t":1090,"a":200,"b":180,"c":200,"d":210},
{"r":4,"t":1095,"a":-200,"b":-180,"c":-200,"d":-210},
{"r":4,"t":1100,"a":100,"b":90,"c":100,"d":110},
{"r":4,"t":1110,"a":-80,"b":-70,"c":-80,"d":-90},
{"r":4,"t":1120,"a":80,"b":70,"c":80,"d":90},
{"r":4,"t":1130,"a":-80,"b":-70,"c":-80,"d":-90},
{"r":4,"t":1140,"a":70,"b":65,"c":70,"d":80},
{"r":4,"t":1150,"a":-80,"b":-70,"c":-80,"d":-90},
{"r":4,"t":1160,"a":80,"b":70,"c":80,"d":90},
{"r":4,"t":1170,"a":-70,"b":-65,"c":-70,"d":-80},
{"r":4,"t":1180,"a":80,"b":70,"c":80,"d":90},
{"r":4,"t":1190,"a":-80,"b":-70,"c":-80,"d":-90},
{"r":4,"t":1200,"a":70,"b":65,"c":70,"d":80},
{"r":4,"t":1210,"a":-80,"b":-70,"c":-80,"d":-90},
{"r":4,"t":1220,"a":80,"b":70,"c":80,"d":90},
{"r":4,"t":1230,"a":-70,"b":-65,"c":-70,"d":-80},
{"r":4,"t":1240,"a":80,"b":70,"c":80,"d":90},
{"r":4,"t":1250,"a":-100,"b":-90,"c":-100,"d":-110},
{"r":4,"t":1255,"a":80,"b":70,"c":80,"d":90},
{"r":4,"t":1260,"a":-150,"b":-135,"c":-150,"d":-160},
{"r":4,"t":1265,"a":300,"b":270,"c":300,"d":400},
{"r":4,"t":1270,"a":-500,"b":-450,"c":-500,"d":-500},
{"r":4,"t":1280,"a":500,"b":450,"c":500,"d":900},
{"r":4,"t":1285,"a":-300,"b":-270,"c":-300,"d":-250},
{"r":4,"t":1290,"a":250,"b":225,"c":250,"d":260},
{"r":4,"t":1295,"a":-250,"b":-225,"c":-250,"d":-260},
{"r":4,"t":1300,"a":250,"b":225,"c":250,"d":260},
{"r":4,"t":1305,"a":-250,"b":-225,"c":-250,"d":-260},
{"r":4,"t":1310,"a":250,"b":225,"c":250,"d":260},
{"r":4,"t":1320,"a":-250,"b":-225,"c":-250,"d":-260},
{"r":4,"t":1330,"a":300,"b":270,"c":300,"d":310},
{"r":4,"t":1340,"a":-300,"b":-270,"c":-300,"d":-310},
{"r":4,"t":1350,"a":300,"b":270,"c":300,"d":310},
{"r":4,"t":1360,"a":-300,"b":-270,"c":-300,"d":-310},
{"r":4,"t":1370,"a":280,"b":250,"c":280,"d":290},
{"r":4,"t":1380,"a":-250,"b":-225,"c":-250,"d":-260},
{"r":4,"t":1390,"a":250,"b":225,"c":250,"d":260},
{"r":4,"t":1400,"a":-250,"b":-225,"c":-250,"d":-260},
{"r":4,"t":1410,"a":250,"b":225,"c":250,"d":260},
{"r":4,"t":1420,"a":-250,"b":-225,"c":-250,"d":-260},
{"r":4,"t":1430,"a":200,"b":180,"c":200,"d":210},
{"r":4,"t":1440,"a":-220,"b":-200,"c":-220,"d":-230},
{"r":4,"t":1450,"a":250,"b":225,"c":250,"d":260},
{"r":4,"t":1460,"a":-200,"b":-180,"c":-200,"d":-210},
{"r":4,"t":1470,"a":200,"b":180,"c":200,"d":210},
{"r":4,"t":1480,"a":-180,"b":-160,"c":-180,"d":-190},
{"r":4,"t":1490,"a":150,"b":135,"c":150,"d":160},
{"r":4,"t":1500,"a":-100,"b":-90,"c":-100,"d":-110},
{"r":4,"t":1510,"a":80,"b":70,"c":80,"d":90},
{"r":4,"t":1520,"a":-60,"b":-55,"c":-60,"d":-70},
{"r":4,"t":1530,"a":60,"b":55,"c":60,"d":70},
{"r":4,"t":1540,"a":-60,"b":-55,"c":-60,"d":-70},
{"r":4,"t":1550,"a":50,"b":45,"c":50,"d":60},
{"r":4,"t":1560,"a":-60,"b":-55,"c":-60,"d":-70},
{"r":4,"t":1570,"a":60,"b":55,"c":60,"d":70},
{"r":4,"t":1580,"a":-50,"b":-45,"c":-50,"d":-60},
{"r":4,"t":1590,"a":60,"b":55,"c":60,"d":70},
{"r":4,"t":1600,"a":-60,"b":-55,"c":-60,"d":-70},
{"r":4,"t":1610,"a":50,"b":45,"c":50,"d":60},
{"r":4,"t":1620,"a":-60,"b":-55,"c":-60,"d":-70},
{"r":4,"t":1630,"a":60,"b":55,"c":60,"d":70},
{"r":4,"t":1640,"a":-50,"b":-45,"c":-50,"d":-60},
{"r":4,"t":1650,"a":60,"b":55,"c":60,"d":70},
{"r":4,"t":1660,"a":-60,"b":-55,"c":-60,"d":-70},
{"r":4,"t":1670,"a":50,"b":45,"c":50,"d":60},
{"r":4,"t":1680,"a":-60,"b":-55,"c":-60,"d":-70},
{"r":4,"t":1690,"a":60,"b":55,"c":60,"d":70},
{"r":4,"t":1700,"a":-50,"b":-45,"c":-50,"d":-60},
{"r":4,"t":1710,"a":60,"b":55,"c":60,"d":70},
{"r":4,"t":1720,"a":-150,"b":-135,"c":-150,"d":-160},
{"r":4,"t":1730,"a":180,"b":160,"c":180,"d":190},
{"r":4,"t":1740,"a":-180,"b":-160,"c":-180,"d":-190},
{"r":4,"t":1750,"a":180,"b":160,"c":180,"d":190},
{"r":4,"t":1760,"a":-180,"b":-160,"c":-180,"d":-190},
{"r":4,"t":1770,"a":170,"b":155,"c":170,"d":180},
{"r":4,"t":1780,"a":-200,"b":-180,"c":-200,"d":-210},
{"r":4,"t":1790,"a":180,"b":160,"c":180,"d":190},
{"r":4,"t":1800,"a":-180,"b":-160,"c":-180,"d":-190},
{"r":4,"t":1810,"a":170,"b":155,"c":170,"d":180},
{"r":4,"t":1820,"a":-180,"b":-160,"c":-180,"d":-190},
{"r":4,"t":1830,"a":160,"b":145,"c":160,"d":170},
{"r":4,"t":1840,"a":-150,"b":-135,"c":-150,"d":-160},
{"r":4,"t":1850,"a":150,"b":135,"c":150,"d":160},
{"r":4,"t":1860,"a":-150,"b":-135,"c":-150,"d":-160},

{"r":10,"t":1200,"a":0,"b":0,"c":0,"d":0},
{"r":10,"t":1202,"a":-60,"b":-60,"c":-60,"d":-80},
{"r":10,"t":1204,"a":120,"b":120,"c":120,"d":100},
{"r":10,"t":1206,"a":100,"b":100,"c":100,"d":60},
{"r":10,"t":1208,"a":-60,"b":-60,"c":-60,"d":-120},
{"r":10,"t":1210,"a":0,"b":0,"c":0,"d":-60},
{"r":10,"t":1212,"a":40,"b":40,"c":40,"d":-20},
{"r":10,"t":1214,"a":-60,"b":-60,"c":-60,"d":-150},
{"r":10,"t":1216,"a":-60,"b":-60,"c":-60,"d":-150},
{"r":10,"t":1218,"a":115,"b":115,"c":115,"d":50},
{"r":10,"t":1220,"a":-20,"b":-20,"c":-20,"d":-120},
{"r":10,"t":1222,"a":-100,"b":-100,"c":-100,"d":-220},
{"r":10,"t":1224,"a":-20,"b":-20,"c":-20,"d":-150},
{"r":10,"t":1226,"a":10,"b":10,"c":10,"d":-100},
{"r":10,"t":1228,"a":0,"b":0,"c":0,"d":-100},
{"r":10,"t":1230,"a":0,"b":0,"c":0,"d":-80},
{"r":10,"t":1232,"a":20,"b":20,"c":20,"d":-60},
{"r":10,"t":1234,"a":60,"b":60,"c":60,"d":-20},
{"r":10,"t":1236,"a":60,"b":60,"c":60,"d":0},
{"r":10,"t":1238,"a":90,"b":90,"c":90,"d":40},
{"r":10,"t":1240,"a":115,"b":115,"c":115,"d":80},
{"r":10,"t":1242,"a":40,"b":40,"c":40,"d":0},
{"r":10,"t":1244,"a":-80,"b":-80,"c":-80,"d":-120},
{"r":10,"t":1246,"a":0,"b":0,"c":0,"d":-50},
{"r":10,"t":1248,"a":115,"b":115,"c":115,"d":80},
{"r":10,"t":1250,"a":-50,"b":-50,"c":-50,"d":-100},
{"r":10,"t":1252,"a":-100,"b":-100,"c":-100,"d":-150},
{"r":10,"t":1254,"a":-20,"b":-20,"c":-20,"d":-60},
{"r":10,"t":1256,"a":0,"b":0,"c":0,"d":-20},
{"r":10,"t":1258,"a":180,"b":180,"c":180,"d":180},
{"r":10,"t":1260,"a":330,"b":330,"c":330,"d":400},
{"r":10,"t":1262,"a":50,"b":50,"c":50,"d":80},
{"r":10,"t":1264,"a":-280,"b":-280,"c":-280,"d":-300},
{"r":10,"t":1266,"a":-50,"b":-50,"c":-50,"d":-50},
{"r":10,"t":1268,"a":220,"b":220,"c":220,"d":300},
{"r":10,"t":1270,"a":200,"b":200,"c":200,"d":280},
{"r":10,"t":1272,"a":50,"b":50,"c":50,"d":100},
{"r":10,"t":1274,"a":-250,"b":-250,"c":-250,"d":-200},
{"r":10,"t":1276,"a":-500,"b":-420,"c":-500,"d":-450},
{"r":10,"t":1278,"a":200,"b":200,"c":200,"d":350},
{"r":10,"t":1280,"a":440,"b":380,"c":440,"d":685},
{"r":10,"t":1282,"a":100,"b":-100,"c":100,"d":300},
{"r":10,"t":1284,"a":150,"b":-200,"c":150,"d":450},
{"r":10,"t":1286,"a":640,"b":500,"c":640,"d":990},
{"r":10,"t":1288,"a":0,"b":-100,"c":0,"d":300},
{"r":10,"t":1290,"a":-350,"b":-410,"c":-350,"d":-300},
{"r":10,"t":1292,"a":200,"b":150,"c":200,"d":350},
{"r":10,"t":1294,"a":200,"b":150,"c":200,"d":550},
{"r":10,"t":1296,"a":-500,"b":-500,"c":-500,"d":-450},
{"r":10,"t":1298,"a":-200,"b":-250,"c":-200,"d":-100},
{"r":10,"t":1300,"a":200,"b":150,"c":200,"d":380},

{"r":5,"t":0,"a":90,"b":70,"c":90,"d":170},
{"r":5,"t":10,"a":-60,"b":-50,"c":-60,"d":-20},
{"r":5,"t":20,"a":60,"b":50,"c":60,"d":80},
{"r":5,"t":30,"a":-60,"b":-50,"c":-60,"d":-60},
{"r":5,"t":40,"a":60,"b":50,"c":60,"d":30},
{"r":5,"t":50,"a":-45,"b":-40,"c":-45,"d":-135},
{"r":5,"t":60,"a":45,"b":40,"c":45,"d":15},
{"r":5,"t":70,"a":-45,"b":-40,"c":-45,"d":-45},
{"r":5,"t":80,"a":45,"b":40,"c":45,"d":45},
{"r":5,"t":90,"a":-45,"b":-40,"c":-45,"d":-45},
{"r":5,"t":100,"a":45,"b":40,"c":45,"d":45},
{"r":5,"t":110,"a":-45,"b":-40,"c":-45,"d":0},
{"r":5,"t":120,"a":45,"b":40,"c":45,"d":155},
{"r":5,"t":130,"a":-45,"b":-40,"c":-45,"d":-75},
{"r":5,"t":140,"a":45,"b":40,"c":45,"d":175},
{"r":5,"t":150,"a":-30,"b":-25,"c":-30,"d":-140},
{"r":5,"t":160,"a":30,"b":25,"c":30,"d":30},
{"r":5,"t":170,"a":-30,"b":-25,"c":-30,"d":-30},
{"r":5,"t":180,"a":30,"b":25,"c":30,"d":30},
{"r":5,"t":190,"a":-30,"b":-25,"c":-30,"d":-30},
{"r":5,"t":200,"a":30,"b":25,"c":30,"d":30},
{"r":5,"t":210,"a":-30,"b":-25,"c":-30,"d":-90},
{"r":5,"t":220,"a":30,"b":25,"c":30,"d":-110},
{"r":5,"t":230,"a":-30,"b":-25,"c":-30,"d":-10},
{"r":5,"t":240,"a":30,"b":25,"c":30,"d":80},
{"r":5,"t":250,"a":-30,"b":-25,"c":-30,"d":-30},
{"r":5,"t":260,"a":30,"b":25,"c":30,"d":30},
{"r":5,"t":270,"a":-30,"b":-25,"c":-30,"d":-30},
{"r":5,"t":280,"a":30,"b":25,"c":30,"d":30},
{"r":5,"t":290,"a":-30,"b":-25,"c":-30,"d":-30},
{"r":5,"t":300,"a":30,"b":25,"c":30,"d":30},
{"r":5,"t":310,"a":-30,"b":-25,"c":-30,"d":-30},
{"r":5,"t":320,"a":30,"b":25,"c":30,"d":30},
{"r":5,"t":330,"a":-30,"b":-25,"c":-30,"d":-30},
{"r":5,"t":340,"a":30,"b":25,"c":30,"d":-20},
{"r":5,"t":350,"a":-30,"b":-25,"c":-30,"d":-90},
{"r":5,"t":360,"a":20,"b":15,"c":20,"d":0},
{"r":5,"t":370,"a":-20,"b":-15,"c":-20,"d":60},
{"r":5,"t":380,"a":20,"b":15,"c":20,"d":220},
{"r":5,"t":385,"a":-20,"b":-15,"c":-20,"d":210},
{"r":5,"t":390,"a":20,"b":15,"c":20,"d":80},
{"r":5,"t":400,"a":-80,"b":-70,"c":-80,"d":-230},
{"r":5,"t":410,"a":80,"b":70,"c":80,"d":120},
{"r":5,"t":420,"a":-80,"b":-70,"c":-80,"d":90},
{"r":5,"t":430,"a":80,"b":70,"c":80,"d":50},
{"r":5,"t":440,"a":-80,"b":-70,"c":-80,"d":-100},
{"r":5,"t":450,"a":80,"b":70,"c":80,"d":100},
{"r":5,"t":460,"a":-80,"b":-70,"c":-80,"d":-100},
{"r":5,"t":470,"a":80,"b":70,"c":80,"d":100},
{"r":5,"t":480,"a":-80,"b":-70,"c":-80,"d":-100},
{"r":5,"t":490,"a":80,"b":70,"c":80,"d":100},
{"r":5,"t":500,"a":-60,"b":-55,"c":-60,"d":-70},
{"r":5,"t":505,"a":60,"b":55,"c":60,"d":220},
{"r":5,"t":510,"a":-60,"b":-55,"c":-60,"d":-40},
{"r":5,"t":520,"a":50,"b":45,"c":50,"d":-30},
{"r":5,"t":530,"a":-50,"b":-45,"c":-50,"d":-90},
{"r":5,"t":540,"a":50,"b":45,"c":50,"d":50},
{"r":5,"t":550,"a":-50,"b":-45,"c":-50,"d":-50},
{"r":5,"t":560,"a":50,"b":45,"c":50,"d":50},
{"r":5,"t":570,"a":-50,"b":-45,"c":-50,"d":-50},
{"r":5,"t":580,"a":50,"b":45,"c":50,"d":50},
{"r":5,"t":590,"a":-50,"b":-45,"c":-50,"d":-50},
{"r":5,"t":600,"a":40,"b":35,"c":40,"d":40},
{"r":5,"t":610,"a":-40,"b":-35,"c":-40,"d":60},
{"r":5,"t":620,"a":40,"b":35,"c":40,"d":240},
{"r":5,"t":630,"a":-40,"b":-35,"c":-40,"d":-40},
{"r":5,"t":640,"a":40,"b":35,"c":40,"d":90},
{"r":5,"t":650,"a":-40,"b":-35,"c":-40,"d":-80},
{"r":5,"t":660,"a":40,"b":35,"c":40,"d":-20},
{"r":5,"t":670,"a":-40,"b":-35,"c":-40,"d":-140},
{"r":5,"t":680,"a":40,"b":35,"c":40,"d":-110},
{"r":5,"t":690,"a":-40,"b":-35,"c":-40,"d":-100},
{"r":5,"t":700,"a":40,"b":35,"c":40,"d":30},
{"r":5,"t":710,"a":-40,"b":-35,"c":-40,"d":-10},
{"r":5,"t":720,"a":40,"b":35,"c":40,"d":120},
{"r":5,"t":730,"a":-40,"b":-35,"c":-40,"d":10},
{"r":5,"t":740,"a":40,"b":35,"c":40,"d":70},
{"r":5,"t":750,"a":-40,"b":-35,"c":-40,"d":40},
{"r":5,"t":760,"a":40,"b":35,"c":40,"d":60},
{"r":5,"t":770,"a":-40,"b":-35,"c":-40,"d":-40},
{"r":5,"t":780,"a":40,"b":35,"c":40,"d":40},
{"r":5,"t":790,"a":-40,"b":-35,"c":-40,"d":-40},
{"r":5,"t":800,"a":40,"b":35,"c":40,"d":170},
{"r":5,"t":810,"a":-40,"b":-35,"c":-40,"d":40},
{"r":5,"t":820,"a":40,"b":35,"c":40,"d":40},
{"r":5,"t":830,"a":-40,"b":-35,"c":-40,"d":-160},
{"r":5,"t":840,"a":40,"b":35,"c":40,"d":-20},
{"r":5,"t":850,"a":-40,"b":-35,"c":-40,"d":-40},
{"r":5,"t":860,"a":40,"b":35,"c":40,"d":40},
{"r":5,"t":870,"a":-40,"b":-35,"c":-40,"d":-40},
{"r":5,"t":880,"a":40,"b":35,"c":40,"d":40},
{"r":5,"t":890,"a":-40,"b":-35,"c":-40,"d":-40},
{"r":5,"t":900,"a":50,"b":45,"c":50,"d":50},
{"r":5,"t":910,"a":-50,"b":-45,"c":-50,"d":-50},
{"r":5,"t":920,"a":50,"b":45,"c":50,"d":50},
{"r":5,"t":930,"a":-50,"b":-45,"c":-50,"d":-50},
{"r":5,"t":940,"a":50,"b":45,"c":50,"d":50},
{"r":5,"t":950,"a":-50,"b":-45,"c":-50,"d":-50},
{"r":5,"t":960,"a":50,"b":45,"c":50,"d":50},
{"r":5,"t":970,"a":-50,"b":-45,"c":-50,"d":-220},
{"r":5,"t":980,"a":50,"b":45,"c":50,"d":290},
{"r":5,"t":990,"a":-50,"b":-45,"c":-50,"d":-20},
{"r":5,"t":1000,"a":50,"b":45,"c":50,"d":-10},
{"r":5,"t":1010,"a":-50,"b":-45,"c":-50,"d":-170},
{"r":5,"t":1020,"a":50,"b":45,"c":50,"d":-190},
{"r":5,"t":1030,"a":-50,"b":-45,"c":-50,"d":-50},
{"r":5,"t":1040,"a":50,"b":45,"c":50,"d":110},
{"r":5,"t":1050,"a":-50,"b":-45,"c":-50,"d":90},
{"r":5,"t":1060,"a":50,"b":45,"c":50,"d":20},
{"r":5,"t":1070,"a":-50,"b":-45,"c":-50,"d":-50},
{"r":5,"t":1080,"a":50,"b":45,"c":50,"d":50},
{"r":5,"t":1090,"a":-50,"b":-45,"c":-50,"d":-50},
{"r":5,"t":1100,"a":30,"b":25,"c":30,"d":110},
{"r":5,"t":1110,"a":-15,"b":-15,"c":-15,"d":-45},
{"r":5,"t":1120,"a":15,"b":15,"c":15,"d":-105},
{"r":5,"t":1130,"a":-15,"b":-15,"c":-15,"d":-15},
{"r":5,"t":1140,"a":35,"b":30,"c":35,"d":35},
{"r":5,"t":1150,"a":-35,"b":-30,"c":-35,"d":-35},
{"r":5,"t":1160,"a":35,"b":30,"c":35,"d":35},
{"r":5,"t":1170,"a":-35,"b":-30,"c":-35,"d":-35},
{"r":5,"t":1180,"a":35,"b":30,"c":35,"d":35},
{"r":5,"t":1190,"a":-35,"b":-30,"c":-35,"d":-35},
{"r":5,"t":1200,"a":50,"b":45,"c":50,"d":50},
{"r":5,"t":1210,"a":-50,"b":-45,"c":-50,"d":120},
{"r":5,"t":1220,"a":50,"b":45,"c":50,"d":80},
{"r":5,"t":1230,"a":-50,"b":-45,"c":-50,"d":-90},
{"r":5,"t":1240,"a":50,"b":45,"c":50,"d":110},
{"r":5,"t":1245,"a":-50,"b":-45,"c":-50,"d":80},
{"r":5,"t":1250,"a":50,"b":45,"c":50,"d":50},
{"r":5,"t":1260,"a":-50,"b":-45,"c":-50,"d":-80},
{"r":5,"t":1270,"a":50,"b":45,"c":50,"d":-50},
{"r":5,"t":1277,"a":-60,"b":-55,"c":-60,"d":-300},
{"r":5,"t":1290,"a":60,"b":55,"c":60,"d":20},
{"r":5,"t":1300,"a":-60,"b":-55,"c":-60,"d":0},
{"r":5,"t":1310,"a":60,"b":55,"c":60,"d":190},
{"r":5,"t":1320,"a":-60,"b":-55,"c":-60,"d":-110},
{"r":5,"t":1330,"a":60,"b":55,"c":60,"d":200},
{"r":5,"t":1340,"a":-60,"b":-55,"c":-60,"d":-250},
{"r":5,"t":1350,"a":60,"b":55,"c":60,"d":110},
{"r":5,"t":1360,"a":-60,"b":-55,"c":-60,"d":60},
{"r":5,"t":1370,"a":60,"b":55,"c":60,"d":10},
{"r":5,"t":1380,"a":-60,"b":-55,"c":-60,"d":-70},
{"r":5,"t":1390,"a":60,"b":55,"c":60,"d":70},
{"r":5,"t":1400,"a":-70,"b":-60,"c":-70,"d":-80},
{"r":5,"t":1410,"a":70,"b":60,"c":70,"d":80},
{"r":5,"t":1420,"a":-70,"b":-60,"c":-70,"d":-80},
{"r":5,"t":1430,"a":70,"b":60,"c":70,"d":-90},
{"r":5,"t":1440,"a":-70,"b":-60,"c":-70,"d":-30},
{"r":5,"t":1450,"a":70,"b":60,"c":70,"d":200},
{"r":5,"t":1460,"a":-70,"b":-60,"c":-70,"d":-120},
{"r":5,"t":1470,"a":70,"b":60,"c":70,"d":80},
{"r":5,"t":1480,"a":-70,"b":-60,"c":-70,"d":-80},
{"r":5,"t":1490,"a":70,"b":60,"c":70,"d":80},
{"r":5,"t":1500,"a":-70,"b":-60,"c":-70,"d":-80},
{"r":5,"t":1510,"a":70,"b":60,"c":70,"d":80},
{"r":5,"t":1520,"a":-70,"b":-60,"c":-70,"d":-80},
{"r":5,"t":1530,"a":70,"b":60,"c":70,"d":80},
{"r":5,"t":1540,"a":-70,"b":-60,"c":-70,"d":-250},
{"r":5,"t":1550,"a":70,"b":60,"c":70,"d":210},
{"r":5,"t":1560,"a":-70,"b":-60,"c":-70,"d":-120},
{"r":5,"t":1570,"a":70,"b":60,"c":70,"d":80},
{"r":5,"t":1580,"a":-70,"b":-60,"c":-70,"d":-80},
{"r":5,"t":1590,"a":70,"b":60,"c":70,"d":80},
{"r":5,"t":1600,"a":-70,"b":-60,"c":-70,"d":-80},
{"r":5,"t":1610,"a":70,"b":60,"c":70,"d":80},
{"r":5,"t":1620,"a":-50,"b":-45,"c":-50,"d":-60},
{"r":5,"t":1630,"a":25,"b":20,"c":25,"d":30},
{"r":5,"t":1640,"a":-25,"b":-20,"c":-25,"d":-30},
{"r":5,"t":1650,"a":25,"b":20,"c":25,"d":30},
{"r":5,"t":1660,"a":-25,"b":-20,"c":-25,"d":-30},
{"r":5,"t":1670,"a":25,"b":20,"c":25,"d":115},
{"r":5,"t":1680,"a":-25,"b":-20,"c":-25,"d":-30},
{"r":5,"t":1690,"a":25,"b":20,"c":25,"d":30},
{"r":5,"t":1700,"a":-25,"b":-20,"c":-25,"d":-105},
{"r":5,"t":1710,"a":25,"b":20,"c":25,"d":30},
{"r":5,"t":1720,"a":-50,"b":-45,"c":-50,"d":-60},
{"r":5,"t":1730,"a":75,"b":65,"c":75,"d":85},
{"r":5,"t":1740,"a":-75,"b":-65,"c":-75,"d":-85},
{"r":5,"t":1750,"a":75,"b":65,"c":75,"d":85},
{"r":5,"t":1760,"a":-75,"b":-65,"c":-75,"d":-85},
{"r":5,"t":1766,"a":75,"b":65,"c":75,"d":-40},
{"r":5,"t":1780,"a":-75,"b":-65,"c":-75,"d":-200},
{"r":5,"t":1790,"a":75,"b":65,"c":75,"d":95},
{"r":5,"t":1800,"a":-75,"b":-65,"c":-75,"d":15},
{"r":5,"t":1810,"a":75,"b":65,"c":75,"d":-35},
{"r":5,"t":1820,"a":-75,"b":-65,"c":-75,"d":-85},
{"r":5,"t":1830,"a":75,"b":65,"c":75,"d":85},
{"r":5,"t":1840,"a":-75,"b":-65,"c":-75,"d":-85},
{"r":5,"t":1850,"a":75,"b":65,"c":75,"d":85},
{"r":5,"t":1860,"a":-75,"b":-65,"c":-75,"d":-85},

{"r":11,"t":1200,"a":-15,"b":-10,"c":-15,"d":0},
{"r":11,"t":1202,"a":-20,"b":-15,"c":-20,"d":-40},
{"r":11,"t":1205,"a":20,"b":25,"c":20,"d":30},
{"r":11,"t":1208,"a":-10,"b":-5,"c":-10,"d":-10},
{"r":11,"t":1211,"a":40,"b":40,"c":40,"d":60},
{"r":11,"t":1214,"a":-25,"b":-20,"c":-25,"d":20},
{"r":11,"t":1217,"a":50,"b":50,"c":50,"d":100},
{"r":11,"t":1220,"a":-40,"b":-35,"c":-40,"d":60},
{"r":11,"t":1223,"a":60,"b":60,"c":60,"d":180},
{"r":11,"t":1226,"a":-50,"b":-45,"c":-50,"d":120},
{"r":11,"t":1229,"a":65,"b":60,"c":65,"d":190},
{"r":11,"t":1232,"a":-55,"b":-50,"c":-55,"d":100},
{"r":11,"t":1235,"a":70,"b":65,"c":70,"d":140},
{"r":11,"t":1238,"a":-60,"b":-55,"c":-60,"d":50},
{"r":11,"t":1241,"a":75,"b":70,"c":75,"d":80},
{"r":11,"t":1244,"a":-60,"b":-55,"c":-60,"d":40},
{"r":11,"t":1247,"a":70,"b":65,"c":70,"d":150},
{"r":11,"t":1250,"a":-60,"b":-55,"c":-60,"d":20},
{"r":11,"t":1253,"a":65,"b":60,"c":65,"d":70},
{"r":11,"t":1256,"a":-55,"b":-50,"c":-55,"d":-40},
{"r":11,"t":1259,"a":60,"b":55,"c":60,"d":40},
{"r":11,"t":1262,"a":-60,"b":-55,"c":-60,"d":-120},
{"r":11,"t":1265,"a":70,"b":65,"c":70,"d":50},
{"r":11,"t":1268,"a":-70,"b":-60,"c":-70,"d":170},
{"r":11,"t":1271,"a":85,"b":75,"c":85,"d":150},
{"r":11,"t":1273.5,"a":-50,"b":-40,"c":-50,"d":80},
{"r":11,"t":1276,"a":80,"b":70,"c":80,"d":-60},
{"r":11,"t":1278.5,"a":-60,"b":-40,"c":-60,"d":-150},
{"r":11,"t":1281,"a":60,"b":85,"c":60,"d":-250},
{"r":11,"t":1284,"a":-80,"b":-60,"c":-80,"d":-200},
{"r":11,"t":1287,"a":50,"b":90,"c":50,"d":-270},
{"r":11,"t":1290,"a":-110,"b":-80,"c":-110,"d":-200},
{"r":11,"t":1293,"a":80,"b":70,"c":80,"d":-300},
{"r":11,"t":1296,"a":-100,"b":-90,"c":-100,"d":-200},
{"r":11,"t":1299,"a":90,"b":85,"c":90,"d":-230},
{"r":11,"t":1300,"a":80,"b":80,"c":80,"d":50},

{"r":6,"t":0,"a":-100,"b":-80,"c":-100,"d":-400},
{"r":6,"t":5,"a":60,"b":50,"c":60,"d":-300},
{"r":6,"t":10,"a":-50,"b":-45,"c":-50,"d":-200},
{"r":6,"t":15,"a":50,"b":45,"c":50,"d":-150},
{"r":6,"t":20,"a":-50,"b":-45,"c":-50,"d":-100},
{"r":6,"t":25,"a":50,"b":45,"c":50,"d":-60},
{"r":6,"t":30,"a":-50,"b":-45,"c":-50,"d":-60},
{"r":6,"t":35,"a":50,"b":45,"c":50,"d":20},
{"r":6,"t":40,"a":-50,"b":-45,"c":-50,"d":-30},
{"r":6,"t":45,"a":190,"b":170,"c":190,"d":150},
{"r":6,"t":48,"a":-175,"b":-160,"c":-175,"d":-150},
{"r":6,"t":55,"a":100,"b":90,"c":100,"d":110},
{"r":6,"t":60,"a":-100,"b":-90,"c":-100,"d":-110},
{"r":6,"t":65,"a":100,"b":90,"c":100,"d":110},
{"r":6,"t":70,"a":-100,"b":-90,"c":-100,"d":-110},
{"r":6,"t":75,"a":110,"b":100,"c":110,"d":120},
{"r":6,"t":80,"a":-100,"b":-90,"c":-100,"d":-110},
{"r":6,"t":85,"a":100,"b":90,"c":100,"d":270},
{"r":6,"t":90,"a":-110,"b":-100,"c":-110,"d":-120},
{"r":6,"t":95,"a":110,"b":100,"c":110,"d":120},
{"r":6,"t":100,"a":-100,"b":-90,"c":-100,"d":-110},
{"r":6,"t":105,"a":100,"b":90,"c":100,"d":110},
{"r":6,"t":110,"a":-100,"b":-90,"c":-100,"d":-110},
{"r":6,"t":115,"a":100,"b":90,"c":100,"d":110},
{"r":6,"t":120,"a":-100,"b":-90,"c":-100,"d":-110},
{"r":6,"t":125,"a":100,"b":90,"c":100,"d":120},
{"r":6,"t":130,"a":-100,"b":-90,"c":-100,"d":-110},
{"r":6,"t":135,"a":100,"b":90,"c":100,"d":110},
{"r":6,"t":140,"a":-90,"b":-80,"c":-90,"d":-100},
{"r":6,"t":145,"a":90,"b":80,"c":90,"d":100},
{"r":6,"t":150,"a":-80,"b":-70,"c":-80,"d":-90},
{"r":6,"t":160,"a":50,"b":45,"c":50,"d":55},
{"r":6,"t":170,"a":-45,"b":-40,"c":-45,"d":-50},
{"r":6,"t":180,"a":40,"b":35,"c":40,"d":45},
{"r":6,"t":190,"a":-40,"b":-35,"c":-40,"d":-45},
{"r":6,"t":200,"a":40,"b":35,"c":40,"d":45},
{"r":6,"t":210,"a":-40,"b":-35,"c":-40,"d":-45},
{"r":6,"t":220,"a":40,"b":35,"c":40,"d":45},
{"r":6,"t":230,"a":-35,"b":-30,"c":-35,"d":-40},
{"r":6,"t":240,"a":40,"b":35,"c":40,"d":45},
{"r":6,"t":250,"a":-40,"b":-35,"c":-40,"d":-45},
{"r":6,"t":260,"a":35,"b":30,"c":35,"d":40},
{"r":6,"t":270,"a":-40,"b":-35,"c":-40,"d":-45},
{"r":6,"t":280,"a":40,"b":35,"c":40,"d":45},
{"r":6,"t":290,"a":-35,"b":-30,"c":-35,"d":-40},
{"r":6,"t":300,"a":40,"b":35,"c":40,"d":45},
{"r":6,"t":310,"a":-40,"b":-35,"c":-40,"d":-45},
{"r":6,"t":320,"a":40,"b":35,"c":40,"d":45},
{"r":6,"t":330,"a":-40,"b":-35,"c":-40,"d":-45},
{"r":6,"t":340,"a":40,"b":35,"c":40,"d":45},
{"r":6,"t":350,"a":-40,"b":-35,"c":-40,"d":-45},
{"r":6,"t":360,"a":40,"b":35,"c":40,"d":45},
{"r":6,"t":372,"a":-150,"b":-130,"c":-150,"d":-235},
{"r":6,"t":380,"a":100,"b":90,"c":100,"d":110},
{"r":6,"t":385,"a":-100,"b":-90,"c":-100,"d":-110},
{"r":6,"t":390,"a":100,"b":90,"c":100,"d":110},
{"r":6,"t":395,"a":-100,"b":-90,"c":-100,"d":-110},
{"r":6,"t":400,"a":100,"b":90,"c":100,"d":170},
{"r":6,"t":405,"a":-100,"b":-90,"c":-100,"d":-110},
{"r":6,"t":410,"a":100,"b":90,"c":100,"d":110},
{"r":6,"t":415,"a":-100,"b":-90,"c":-100,"d":-110},
{"r":6,"t":420,"a":100,"b":90,"c":100,"d":130},
{"r":6,"t":425,"a":-100,"b":-90,"c":-100,"d":-110},
{"r":6,"t":430,"a":100,"b":90,"c":100,"d":110},
{"r":6,"t":435,"a":-120,"b":-110,"c":-120,"d":-155},
{"r":6,"t":440,"a":70,"b":65,"c":70,"d":80},
{"r":6,"t":450,"a":-70,"b":-65,"c":-70,"d":-80},
{"r":6,"t":460,"a":60,"b":55,"c":60,"d":70},
{"r":6,"t":470,"a":-70,"b":-65,"c":-70,"d":-80},
{"r":6,"t":480,"a":60,"b":55,"c":60,"d":70},
{"r":6,"t":490,"a":-60,"b":-55,"c":-60,"d":-70},
{"r":6,"t":500,"a":70,"b":65,"c":70,"d":80},
{"r":6,"t":510,"a":-60,"b":-55,"c":-60,"d":-70},
{"r":6,"t":520,"a":60,"b":55,"c":60,"d":70},
{"r":6,"t":530,"a":-60,"b":-55,"c":-60,"d":-70},
{"r":6,"t":540,"a":60,"b":55,"c":60,"d":70},
{"r":6,"t":550,"a":-50,"b":-45,"c":-50,"d":-60},
{"r":6,"t":560,"a":60,"b":55,"c":60,"d":70},
{"r":6,"t":570,"a":-50,"b":-45,"c":-50,"d":-60},
{"r":6,"t":580,"a":50,"b":45,"c":50,"d":60},
{"r":6,"t":590,"a":-50,"b":-45,"c":-50,"d":-60},
{"r":6,"t":600,"a":50,"b":45,"c":50,"d":60},
{"r":6,"t":608,"a":190,"b":170,"c":190,"d":150},
{"r":6,"t":612,"a":-150,"b":-130,"c":-150,"d":-280},
{"r":6,"t":620,"a":80,"b":70,"c":80,"d":90},
{"r":6,"t":625,"a":-80,"b":-70,"c":-80,"d":-90},
{"r":6,"t":630,"a":80,"b":70,"c":80,"d":90},
{"r":6,"t":635,"a":-80,"b":-70,"c":-80,"d":-90},
{"r":6,"t":640,"a":80,"b":70,"c":80,"d":90},
{"r":6,"t":645,"a":-80,"b":-70,"c":-80,"d":-90},
{"r":6,"t":650,"a":80,"b":70,"c":80,"d":90},
{"r":6,"t":655,"a":-80,"b":-70,"c":-80,"d":-90},
{"r":6,"t":660,"a":80,"b":70,"c":80,"d":90},
{"r":6,"t":665,"a":-80,"b":-70,"c":-80,"d":-90},
{"r":6,"t":670,"a":80,"b":70,"c":80,"d":90},
{"r":6,"t":675,"a":-70,"b":-65,"c":-70,"d":-80},
{"r":6,"t":680,"a":70,"b":65,"c":70,"d":80},
{"r":6,"t":690,"a":-60,"b":-55,"c":-60,"d":-70},
{"r":6,"t":700,"a":50,"b":45,"c":50,"d":60},
{"r":6,"t":710,"a":-40,"b":-35,"c":-40,"d":-45},
{"r":6,"t":720,"a":40,"b":35,"c":40,"d":45},
{"r":6,"t":730,"a":-40,"b":-35,"c":-40,"d":-45},
{"r":6,"t":740,"a":40,"b":35,"c":40,"d":45},
{"r":6,"t":750,"a":-40,"b":-35,"c":-40,"d":-45},
{"r":6,"t":760,"a":40,"b":35,"c":40,"d":45},
{"r":6,"t":770,"a":-40,"b":-35,"c":-40,"d":-45},
{"r":6,"t":780,"a":40,"b":35,"c":40,"d":45},
{"r":6,"t":790,"a":-40,"b":-35,"c":-40,"d":-45},
{"r":6,"t":800,"a":60,"b":55,"c":60,"d":70},
{"r":6,"t":810,"a":-70,"b":-65,"c":-70,"d":-80},
{"r":6,"t":820,"a":70,"b":65,"c":70,"d":80},
{"r":6,"t":830,"a":-70,"b":-65,"c":-70,"d":-80},
{"r":6,"t":840,"a":70,"b":65,"c":70,"d":80},
{"r":6,"t":850,"a":-70,"b":-65,"c":-70,"d":-80},
{"r":6,"t":860,"a":70,"b":65,"c":70,"d":80},
{"r":6,"t":870,"a":-70,"b":-65,"c":-70,"d":-80},
{"r":6,"t":880,"a":60,"b":55,"c":60,"d":70},
{"r":6,"t":890,"a":-60,"b":-55,"c":-60,"d":-70},
{"r":6,"t":900,"a":50,"b":45,"c":50,"d":60},
{"r":6,"t":910,"a":-50,"b":-45,"c":-50,"d":-60},
{"r":6,"t":920,"a":50,"b":45,"c":50,"d":60},
{"r":6,"t":930,"a":-50,"b":-45,"c":-50,"d":-60},
{"r":6,"t":940,"a":50,"b":45,"c":50,"d":60},
{"r":6,"t":950,"a":-50,"b":-45,"c":-50,"d":-60},
{"r":6,"t":960,"a":60,"b":55,"c":60,"d":70},
{"r":6,"t":970,"a":-60,"b":-55,"c":-60,"d":-70},
{"r":6,"t":980,"a":80,"b":70,"c":80,"d":-280},
{"r":6,"t":985,"a":-90,"b":-80,"c":-90,"d":-100},
{"r":6,"t":990,"a":100,"b":90,"c":100,"d":185},
{"r":6,"t":995,"a":-100,"b":-90,"c":-100,"d":-110},
{"r":6,"t":1000,"a":100,"b":90,"c":100,"d":110},
{"r":6,"t":1005,"a":-90,"b":-80,"c":-90,"d":-100},
{"r":6,"t":1010,"a":90,"b":80,"c":90,"d":100},
{"r":6,"t":1015,"a":-90,"b":-80,"c":-90,"d":-100},
{"r":6,"t":1020,"a":80,"b":70,"c":80,"d":90},
{"r":6,"t":1030,"a":-80,"b":-70,"c":-80,"d":-90},
{"r":6,"t":1040,"a":80,"b":70,"c":80,"d":90},
{"r":6,"t":1050,"a":-70,"b":-65,"c":-70,"d":-80},
{"r":6,"t":1060,"a":70,"b":65,"c":70,"d":80},
{"r":6,"t":1070,"a":-70,"b":-65,"c":-70,"d":-80},
{"r":6,"t":1080,"a":60,"b":55,"c":60,"d":70},
{"r":6,"t":1090,"a":-60,"b":-55,"c":-60,"d":-70},
{"r":6,"t":1100,"a":50,"b":45,"c":50,"d":60},
{"r":6,"t":1110,"a":-40,"b":-35,"c":-40,"d":-45},
{"r":6,"t":1120,"a":35,"b":30,"c":35,"d":40},
{"r":6,"t":1130,"a":-35,"b":-30,"c":-35,"d":-40},
{"r":6,"t":1140,"a":35,"b":30,"c":35,"d":40},
{"r":6,"t":1150,"a":-35,"b":-30,"c":-35,"d":-40},
{"r":6,"t":1160,"a":30,"b":25,"c":30,"d":35},
{"r":6,"t":1170,"a":-30,"b":-25,"c":-30,"d":-35},
{"r":6,"t":1180,"a":35,"b":30,"c":35,"d":40},
{"r":6,"t":1190,"a":-35,"b":-30,"c":-35,"d":-40},
{"r":6,"t":1200,"a":50,"b":45,"c":50,"d":60},
{"r":6,"t":1210,"a":-60,"b":-55,"c":-60,"d":90},
{"r":6,"t":1220,"a":70,"b":65,"c":70,"d":80},
{"r":6,"t":1230,"a":-70,"b":-65,"c":-70,"d":-80},
{"r":6,"t":1240,"a":70,"b":65,"c":70,"d":100},
{"r":6,"t":1250,"a":-70,"b":-65,"c":-70,"d":-90},
{"r":6,"t":1260,"a":70,"b":65,"c":70,"d":80},
{"r":6,"t":1270,"a":-80,"b":-70,"c":-80,"d":-90},
{"r":6,"t":1280,"a":150,"b":135,"c":150,"d":200},
{"r":6,"t":1285,"a":-180,"b":-160,"c":-180,"d":-250},
{"r":6,"t":1290,"a":190,"b":170,"c":190,"d":300},
{"r":6,"t":1295,"a":-200,"b":-180,"c":-200,"d":-300},
{"r":6,"t":1300,"a":200,"b":180,"c":200,"d":250},
{"r":6,"t":1305,"a":-190,"b":-170,"c":-190,"d":-250},
{"r":6,"t":1310,"a":180,"b":160,"c":180,"d":200},
{"r":6,"t":1315,"a":-180,"b":-160,"c":-180,"d":-220},
{"r":6,"t":1320,"a":170,"b":155,"c":170,"d":190},
{"r":6,"t":1325,"a":-180,"b":-160,"c":-180,"d":-200},
{"r":6,"t":1330,"a":160,"b":145,"c":160,"d":180},
{"r":6,"t":1335,"a":-170,"b":-155,"c":-170,"d":-200},
{"r":6,"t":1340,"a":180,"b":160,"c":180,"d":200},
{"r":6,"t":1345,"a":-180,"b":-160,"c":-180,"d":-220},
{"r":6,"t":1350,"a":170,"b":155,"c":170,"d":200},
{"r":6,"t":1355,"a":-200,"b":-180,"c":-200,"d":-200},
{"r":6,"t":1364,"a":200,"b":180,"c":200,"d":310},
{"r":6,"t":1370,"a":-160,"b":-145,"c":-160,"d":-180},
{"r":6,"t":1375,"a":120,"b":110,"c":120,"d":150},
{"r":6,"t":1380,"a":-120,"b":-110,"c":-120,"d":-150},
{"r":6,"t":1385,"a":110,"b":100,"c":110,"d":130},
{"r":6,"t":1390,"a":-110,"b":-100,"c":-110,"d":-130},
{"r":6,"t":1395,"a":100,"b":90,"c":100,"d":120},
{"r":6,"t":1400,"a":-100,"b":-90,"c":-100,"d":-120},
{"r":6,"t":1410,"a":100,"b":90,"c":100,"d":120},
{"r":6,"t":1420,"a":-100,"b":-90,"c":-100,"d":-120},
{"r":6,"t":1430,"a":100,"b":90,"c":100,"d":120},
{"r":6,"t":1440,"a":-100,"b":-90,"c":-100,"d":-120},
{"r":6,"t":1450,"a":100,"b":90,"c":100,"d":120},
{"r":6,"t":1460,"a":-100,"b":-90,"c":-100,"d":-130},
{"r":6,"t":1470,"a":100,"b":90,"c":100,"d":110},
{"r":6,"t":1475,"a":-100,"b":-90,"c":-100,"d":-240},
{"r":6,"t":1485,"a":80,"b":70,"c":80,"d":100},
{"r":6,"t":1490,"a":-70,"b":-65,"c":-70,"d":-80},
{"r":6,"t":1500,"a":70,"b":65,"c":70,"d":80},
{"r":6,"t":1510,"a":-70,"b":-65,"c":-70,"d":-80},
{"r":6,"t":1520,"a":70,"b":65,"c":70,"d":80},
{"r":6,"t":1530,"a":-70,"b":-65,"c":-70,"d":-80},
{"r":6,"t":1540,"a":70,"b":65,"c":70,"d":80},
{"r":6,"t":1550,"a":-60,"b":-55,"c":-60,"d":-70},
{"r":6,"t":1560,"a":60,"b":55,"c":60,"d":70},
{"r":6,"t":1570,"a":-60,"b":-55,"c":-60,"d":-70},
{"r":6,"t":1580,"a":60,"b":55,"c":60,"d":70},
{"r":6,"t":1590,"a":-60,"b":-55,"c":-60,"d":-70},
{"r":6,"t":1600,"a":50,"b":45,"c":50,"d":60},
{"r":6,"t":1610,"a":-50,"b":-45,"c":-50,"d":-60},
{"r":6,"t":1620,"a":50,"b":45,"c":50,"d":60},
{"r":6,"t":1630,"a":-50,"b":-45,"c":-50,"d":-60},
{"r":6,"t":1640,"a":50,"b":45,"c":50,"d":60},
{"r":6,"t":1650,"a":-50,"b":-45,"c":-50,"d":-60},
{"r":6,"t":1660,"a":40,"b":35,"c":40,"d":45},
{"r":6,"t":1670,"a":-40,"b":-35,"c":-40,"d":-45},
{"r":6,"t":1680,"a":40,"b":35,"c":40,"d":45},
{"r":6,"t":1690,"a":-30,"b":-25,"c":-30,"d":-35},
{"r":6,"t":1700,"a":20,"b":15,"c":20,"d":25},
{"r":6,"t":1710,"a":-20,"b":-15,"c":-20,"d":-25},
{"r":6,"t":1720,"a":100,"b":90,"c":100,"d":120},
{"r":6,"t":1730,"a":-100,"b":-90,"c":-100,"d":-140},
{"r":6,"t":1740,"a":110,"b":100,"c":110,"d":120},
{"r":6,"t":1750,"a":-120,"b":-110,"c":-120,"d":-150},
{"r":6,"t":1760,"a":120,"b":110,"c":120,"d":140},
{"r":6,"t":1770,"a":-120,"b":-110,"c":-120,"d":-150},
{"r":6,"t":1777,"a":120,"b":110,"c":120,"d":200},
{"r":6,"t":1785,"a":-120,"b":-110,"c":-120,"d":-150},
{"r":6,"t":1790,"a":110,"b":100,"c":110,"d":130},
{"r":6,"t":1800,"a":-100,"b":-90,"c":-100,"d":-110},
{"r":6,"t":1810,"a":90,"b":80,"c":90,"d":100},
{"r":6,"t":1820,"a":-90,"b":-80,"c":-90,"d":-100},
{"r":6,"t":1830,"a":70,"b":65,"c":70,"d":80},
{"r":6,"t":1840,"a":-60,"b":-55,"c":-60,"d":-70},
{"r":6,"t":1850,"a":60,"b":55,"c":60,"d":70},
{"r":6,"t":1860,"a":-50,"b":-45,"c":-50,"d":-60},

{"r":12,"t":1200,"a":30,"b":30,"c":30,"d":30},
{"r":12,"t":1202,"a":45,"b":45,"c":45,"d":40},
{"r":12,"t":1205,"a":0,"b":5,"c":0,"d":-20},
{"r":12,"t":1208,"a":-10,"b":-5,"c":-10,"d":-40},
{"r":12,"t":1211,"a":10,"b":10,"c":10,"d":-20},
{"r":12,"t":1215,"a":-25,"b":-20,"c":-25,"d":-60},
{"r":12,"t":1220,"a":100,"b":95,"c":100,"d":80},
{"r":12,"t":1223,"a":-10,"b":-5,"c":-10,"d":-50},
{"r":12,"t":1226,"a":60,"b":55,"c":60,"d":30},
{"r":12,"t":1229,"a":-5,"b":0,"c":-5,"d":-40},
{"r":12,"t":1232,"a":75,"b":70,"c":75,"d":50},
{"r":12,"t":1235,"a":0,"b":5,"c":0,"d":-20},
{"r":12,"t":1239,"a":65,"b":60,"c":65,"d":50},
{"r":12,"t":1242,"a":-80,"b":-60,"c":-80,"d":-100},
{"r":12,"t":1245,"a":-125,"b":-110,"c":-125,"d":-160},
{"r":12,"t":1248,"a":120,"b":115,"c":120,"d":110},
{"r":12,"t":1252,"a":-80,"b":-75,"c":-80,"d":-100},
{"r":12,"t":1254,"a":100,"b":95,"c":100,"d":90},
{"r":12,"t":1258,"a":-60,"b":-55,"c":-60,"d":-70},
{"r":12,"t":1261,"a":85,"b":80,"c":85,"d":80},
{"r":12,"t":1265,"a":0,"b":0,"c":0,"d":-10},
{"r":12,"t":1269,"a":85,"b":80,"c":85,"d":90},
{"r":12,"t":1273,"a":-45,"b":-40,"c":-45,"d":-60},
{"r":12,"t":1276,"a":100,"b":95,"c":100,"d":110},
{"r":12,"t":1279,"a":-155,"b":-140,"c":-155,"d":-170},
{"r":12,"t":1282,"a":195,"b":180,"c":195,"d":200},
{"r":12,"t":1285,"a":0,"b":10,"c":0,"d":0},
{"r":12,"t":1288,"a":-190,"b":-180,"c":-190,"d":-230},
{"r":12,"t":1292,"a":300,"b":290,"c":300,"d":280},
{"r":12,"t":1295,"a":-210,"b":-200,"c":-210,"d":-280},
{"r":12,"t":1298,"a":250,"b":245,"c":250,"d":240},
{"r":12,"t":1300,"a":-230,"b":-220,"c":-230,"d":-320}
]},
"transform": [
  {"fold": ["a", "b", "c", "d"], "as": ["k", "v"]},
  {"lookup": "k", "from": {"data": {"values": [
    {"k": "a", "n": "#1) Measured Ū (R=1e-6,Q=1e0)"},
    {"k": "b", "n": "#2) Optimized Ū (R=1e-6,Q=1e0)"},
    {"k": "c", "n": "#3) Optimized Ū (R=1e-7,Q=1e0)"},
    {"k": "d", "n": "#4) Optimized Ū (R=1e-7,Q=1e-1)"}
  ]}, "key": "k", "fields": ["n"]}}
],
"columns": 2,
"align": "each",
"bounds": "flush",
"spacing": {"row": 38, "column": 90},
"concat": [
{"width": 800, "height": 63, "transform": [{"filter": "datum.r==1"}],
 "title": {"text": "×10⁴", "anchor": "start", "frame": "group", "fontSize": 21, "fontWeight": "normal", "font": "Liberation Sans", "color": "#262626", "offset": 1, "dx": 2},
 "mark": {"type": "line", "strokeWidth": 1.5, "clip": true},
 "encoding": {
  "x": {"field": "t", "type": "quantitative", "scale": {"domain": [0, 1860], "nice": false, "zero": false}, "axis": {"values": [0,200,400,600,800,1000,1200,1400,1600,1800], "labels": false, "title": null}},
  "y": {"field": "v", "type": "quantitative", "scale": {"domain": [-4, 5.5], "nice": false, "zero": false}, "axis": {"values": [-4,-2,0,2,4], "format": "d", "title": "ẑ₁(t)"}},
  "color": {"field": "n", "type": "nominal", "scale": {"domain": ["#1) Measured Ū (R=1e-6,Q=1e0)", "#2) Optimized Ū (R=1e-6,Q=1e0)", "#3) Optimized Ū (R=1e-7,Q=1e0)", "#4) Optimized Ū (R=1e-7,Q=1e-1)"], "range": ["#000000", "#0000ff", "#ff0000", "#1a8c1a"]}, "legend": {"title": null}},
  "strokeDash": {"field": "n", "type": "nominal", "scale": {"domain": ["#1) Measured Ū (R=1e-6,Q=1e0)", "#2) Optimized Ū (R=1e-6,Q=1e0)", "#3) Optimized Ū (R=1e-7,Q=1e0)", "#4) Optimized Ū (R=1e-7,Q=1e-1)"], "range": [[1,0],[6,4],[8,3,2,3],[2,2]]}, "legend": {"title": null}}
 }},
{"width": 201, "height": 63, "transform": [{"filter": "datum.r==7"}],
 "title": {"text": "×10⁴", "anchor": "start", "frame": "group", "fontSize": 21, "fontWeight": "normal", "font": "Liberation Sans", "color": "#262626", "offset": 1, "dx": 2},
 "mark": {"type": "line", "strokeWidth": 1.5, "clip": true},
 "encoding": {
  "x": {"field": "t", "type": "quantitative", "scale": {"domain": [1200, 1300], "nice": false, "zero": false}, "axis": {"values": [1200,1250,1300], "labels": false, "title": null}},
  "y": {"field": "v", "type": "quantitative", "scale": {"domain": [-2.8, 4.5], "nice": false, "zero": false}, "axis": {"values": [-2,0,2,4], "format": "d", "title": null}},
  "color": {"field": "n", "type": "nominal", "scale": {"domain": ["#1) Measured Ū (R=1e-6,Q=1e0)", "#2) Optimized Ū (R=1e-6,Q=1e0)", "#3) Optimized Ū (R=1e-7,Q=1e0)", "#4) Optimized Ū (R=1e-7,Q=1e-1)"], "range": ["#000000", "#0000ff", "#ff0000", "#1a8c1a"]}, "legend": {"title": null}},
  "strokeDash": {"field": "n", "type": "nominal", "scale": {"domain": ["#1) Measured Ū (R=1e-6,Q=1e0)", "#2) Optimized Ū (R=1e-6,Q=1e0)", "#3) Optimized Ū (R=1e-7,Q=1e0)", "#4) Optimized Ū (R=1e-7,Q=1e-1)"], "range": [[1,0],[6,4],[8,3,2,3],[2,2]]}, "legend": {"title": null}}
 }},
{"width": 800, "height": 63, "transform": [{"filter": "datum.r==2"}],
 "mark": {"type": "line", "strokeWidth": 1.5, "clip": true},
 "encoding": {
  "x": {"field": "t", "type": "quantitative", "scale": {"domain": [0, 1860], "nice": false, "zero": false}, "axis": {"values": [0,200,400,600,800,1000,1200,1400,1600,1800], "labels": false, "title": null}},
  "y": {"field": "v", "type": "quantitative", "scale": {"domain": [-2750, 4000], "nice": false, "zero": false}, "axis": {"values": [-2000,0,2000,4000], "format": "d", "title": "ẑ₂(t)"}},
  "color": {"field": "n", "type": "nominal", "scale": {"domain": ["#1) Measured Ū (R=1e-6,Q=1e0)", "#2) Optimized Ū (R=1e-6,Q=1e0)", "#3) Optimized Ū (R=1e-7,Q=1e0)", "#4) Optimized Ū (R=1e-7,Q=1e-1)"], "range": ["#000000", "#0000ff", "#ff0000", "#1a8c1a"]}, "legend": {"title": null}},
  "strokeDash": {"field": "n", "type": "nominal", "scale": {"domain": ["#1) Measured Ū (R=1e-6,Q=1e0)", "#2) Optimized Ū (R=1e-6,Q=1e0)", "#3) Optimized Ū (R=1e-7,Q=1e0)", "#4) Optimized Ū (R=1e-7,Q=1e-1)"], "range": [[1,0],[6,4],[8,3,2,3],[2,2]]}, "legend": {"title": null}}
 }},
{"width": 201, "height": 63, "transform": [{"filter": "datum.r==8"}],
 "mark": {"type": "line", "strokeWidth": 1.5, "clip": true},
 "encoding": {
  "x": {"field": "t", "type": "quantitative", "scale": {"domain": [1200, 1300], "nice": false, "zero": false}, "axis": {"values": [1200,1250,1300], "labels": false, "title": null}},
  "y": {"field": "v", "type": "quantitative", "scale": {"domain": [-1000, 3900], "nice": false, "zero": false}, "axis": {"values": [-1000,0,1000,2000,3000], "format": "d", "title": null}},
  "color": {"field": "n", "type": "nominal", "scale": {"domain": ["#1) Measured Ū (R=1e-6,Q=1e0)", "#2) Optimized Ū (R=1e-6,Q=1e0)", "#3) Optimized Ū (R=1e-7,Q=1e0)", "#4) Optimized Ū (R=1e-7,Q=1e-1)"], "range": ["#000000", "#0000ff", "#ff0000", "#1a8c1a"]}, "legend": {"title": null}},
  "strokeDash": {"field": "n", "type": "nominal", "scale": {"domain": ["#1) Measured Ū (R=1e-6,Q=1e0)", "#2) Optimized Ū (R=1e-6,Q=1e0)", "#3) Optimized Ū (R=1e-7,Q=1e0)", "#4) Optimized Ū (R=1e-7,Q=1e-1)"], "range": [[1,0],[6,4],[8,3,2,3],[2,2]]}, "legend": {"title": null}}
 }},
{"width": 800, "height": 63, "transform": [{"filter": "datum.r==3"}],
 "mark": {"type": "line", "strokeWidth": 1.5, "clip": true},
 "encoding": {
  "x": {"field": "t", "type": "quantitative", "scale": {"domain": [0, 1860], "nice": false, "zero": false}, "axis": {"values": [0,200,400,600,800,1000,1200,1400,1600,1800], "labels": false, "title": null}},
  "y": {"field": "v", "type": "quantitative", "scale": {"domain": [-1380, 1860], "nice": false, "zero": false}, "axis": {"values": [-1000,0,1000], "format": "d", "title": "ẑ₃(t)"}},
  "color": {"field": "n", "type": "nominal", "scale": {"domain": ["#1) Measured Ū (R=1e-6,Q=1e0)", "#2) Optimized Ū (R=1e-6,Q=1e0)", "#3) Optimized Ū (R=1e-7,Q=1e0)", "#4) Optimized Ū (R=1e-7,Q=1e-1)"], "range": ["#000000", "#0000ff", "#ff0000", "#1a8c1a"]}, "legend": {"title": null}},
  "strokeDash": {"field": "n", "type": "nominal", "scale": {"domain": ["#1) Measured Ū (R=1e-6,Q=1e0)", "#2) Optimized Ū (R=1e-6,Q=1e0)", "#3) Optimized Ū (R=1e-7,Q=1e0)", "#4) Optimized Ū (R=1e-7,Q=1e-1)"], "range": [[1,0],[6,4],[8,3,2,3],[2,2]]}, "legend": {"title": null}}
 }},
{"width": 201, "height": 63, "transform": [{"filter": "datum.r==9"}],
 "mark": {"type": "line", "strokeWidth": 1.5, "clip": true},
 "encoding": {
  "x": {"field": "t", "type": "quantitative", "scale": {"domain": [1200, 1300], "nice": false, "zero": false}, "axis": {"values": [1200,1250,1300], "labels": false, "title": null}},
  "y": {"field": "v", "type": "quantitative", "scale": {"domain": [-675, 1145], "nice": false, "zero": false}, "axis": {"values": [-500,0,500,1000], "format": "d", "title": null}},
  "color": {"field": "n", "type": "nominal", "scale": {"domain": ["#1) Measured Ū (R=1e-6,Q=1e0)", "#2) Optimized Ū (R=1e-6,Q=1e0)", "#3) Optimized Ū (R=1e-7,Q=1e0)", "#4) Optimized Ū (R=1e-7,Q=1e-1)"], "range": ["#000000", "#0000ff", "#ff0000", "#1a8c1a"]}, "legend": {"title": null}},
  "strokeDash": {"field": "n", "type": "nominal", "scale": {"domain": ["#1) Measured Ū (R=1e-6,Q=1e0)", "#2) Optimized Ū (R=1e-6,Q=1e0)", "#3) Optimized Ū (R=1e-7,Q=1e0)", "#4) Optimized Ū (R=1e-7,Q=1e-1)"], "range": [[1,0],[6,4],[8,3,2,3],[2,2]]}, "legend": {"title": null}}
 }},
{"width": 800, "height": 63, "transform": [{"filter": "datum.r==4"}],
 "mark": {"type": "line", "strokeWidth": 1.5, "clip": true},
 "encoding": {
  "x": {"field": "t", "type": "quantitative", "scale": {"domain": [0, 1860], "nice": false, "zero": false}, "axis": {"values": [0,200,400,600,800,1000,1200,1400,1600,1800], "labels": false, "title": null}},
  "y": {"field": "v", "type": "quantitative", "scale": {"domain": [-1030, 2300], "nice": false, "zero": false}, "axis": {"values": [-1000,0,1000,2000], "format": "d", "title": "ẑ₄(t)"}},
  "color": {"field": "n", "type": "nominal", "scale": {"domain": ["#1) Measured Ū (R=1e-6,Q=1e0)", "#2) Optimized Ū (R=1e-6,Q=1e0)", "#3) Optimized Ū (R=1e-7,Q=1e0)", "#4) Optimized Ū (R=1e-7,Q=1e-1)"], "range": ["#000000", "#0000ff", "#ff0000", "#1a8c1a"]}, "legend": {"title": null}},
  "strokeDash": {"field": "n", "type": "nominal", "scale": {"domain": ["#1) Measured Ū (R=1e-6,Q=1e0)", "#2) Optimized Ū (R=1e-6,Q=1e0)", "#3) Optimized Ū (R=1e-7,Q=1e0)", "#4) Optimized Ū (R=1e-7,Q=1e-1)"], "range": [[1,0],[6,4],[8,3,2,3],[2,2]]}, "legend": {"title": null}}
 }},
{"width": 201, "height": 63, "transform": [{"filter": "datum.r==10"}],
 "mark": {"type": "line", "strokeWidth": 1.5, "clip": true},
 "encoding": {
  "x": {"field": "t", "type": "quantitative", "scale": {"domain": [1200, 1300], "nice": false, "zero": false}, "axis": {"values": [1200,1250,1300], "labels": false, "title": null}},
  "y": {"field": "v", "type": "quantitative", "scale": {"domain": [-600, 1060], "nice": false, "zero": false}, "axis": {"values": [-500,0,500,1000], "format": "d", "title": null}},
  "color": {"field": "n", "type": "nominal", "scale": {"domain": ["#1) Measured Ū (R=1e-6,Q=1e0)", "#2) Optimized Ū (R=1e-6,Q=1e0)", "#3) Optimized Ū (R=1e-7,Q=1e0)", "#4) Optimized Ū (R=1e-7,Q=1e-1)"], "range": ["#000000", "#0000ff", "#ff0000", "#1a8c1a"]}, "legend": {"title": null}},
  "strokeDash": {"field": "n", "type": "nominal", "scale": {"domain": ["#1) Measured Ū (R=1e-6,Q=1e0)", "#2) Optimized Ū (R=1e-6,Q=1e0)", "#3) Optimized Ū (R=1e-7,Q=1e0)", "#4) Optimized Ū (R=1e-7,Q=1e-1)"], "range": [[1,0],[6,4],[8,3,2,3],[2,2]]}, "legend": {"title": null}}
 }},
{"width": 800, "height": 63, "transform": [{"filter": "datum.r==5"}],
 "mark": {"type": "line", "strokeWidth": 1.5, "clip": true},
 "encoding": {
  "x": {"field": "t", "type": "quantitative", "scale": {"domain": [0, 1860], "nice": false, "zero": false}, "axis": {"values": [0,200,400,600,800,1000,1200,1400,1600,1800], "labels": false, "title": null}},
  "y": {"field": "v", "type": "quantitative", "scale": {"domain": [-336, 308], "nice": false, "zero": false}, "axis": {"values": [-200,0,200], "format": "d", "title": "ẑ₅(t)"}},
  "color": {"field": "n", "type": "nominal", "scale": {"domain": ["#1) Measured Ū (R=1e-6,Q=1e0)", "#2) Optimized Ū (R=1e-6,Q=1e0)", "#3) Optimized Ū (R=1e-7,Q=1e0)", "#4) Optimized Ū (R=1e-7,Q=1e-1)"], "range": ["#000000", "#0000ff", "#ff0000", "#1a8c1a"]}, "legend": {"title": null}},
  "strokeDash": {"field": "n", "type": "nominal", "scale": {"domain": ["#1) Measured Ū (R=1e-6,Q=1e0)", "#2) Optimized Ū (R=1e-6,Q=1e0)", "#3) Optimized Ū (R=1e-7,Q=1e0)", "#4) Optimized Ū (R=1e-7,Q=1e-1)"], "range": [[1,0],[6,4],[8,3,2,3],[2,2]]}, "legend": {"title": null}}
 }},
{"width": 201, "height": 63, "transform": [{"filter": "datum.r==11"}],
 "mark": {"type": "line", "strokeWidth": 1.5, "clip": true},
 "encoding": {
  "x": {"field": "t", "type": "quantitative", "scale": {"domain": [1200, 1300], "nice": false, "zero": false}, "axis": {"values": [1200,1250,1300], "labels": false, "title": null}},
  "y": {"field": "v", "type": "quantitative", "scale": {"domain": [-320, 230], "nice": false, "zero": false}, "axis": {"values": [-200,0,200], "format": "d", "title": null}},
  "color": {"field": "n", "type": "nominal", "scale": {"domain": ["#1) Measured Ū (R=1e-6,Q=1e0)", "#2) Optimized Ū (R=1e-6,Q=1e0)", "#3) Optimized Ū (R=1e-7,Q=1e0)", "#4) Optimized Ū (R=1e-7,Q=1e-1)"], "range": ["#000000", "#0000ff", "#ff0000", "#1a8c1a"]}, "legend": {"title": null}},
  "strokeDash": {"field": "n", "type": "nominal", "scale": {"domain": ["#1) Measured Ū (R=1e-6,Q=1e0)", "#2) Optimized Ū (R=1e-6,Q=1e0)", "#3) Optimized Ū (R=1e-7,Q=1e0)", "#4) Optimized Ū (R=1e-7,Q=1e-1)"], "range": [[1,0],[6,4],[8,3,2,3],[2,2]]}, "legend": {"title": null}}
 }},
{"width": 800, "height": 63, "transform": [{"filter": "datum.r==6"}],
 "mark": {"type": "line", "strokeWidth": 1.5, "clip": true},
 "encoding": {
  "x": {"field": "t", "type": "quantitative", "scale": {"domain": [0, 1860], "nice": false, "zero": false}, "axis": {"values": [0,200,400,600,800,1000,1200,1400,1600,1800], "format": "d", "title": "Time [s]"}},
  "y": {"field": "v", "type": "quantitative", "scale": {"domain": [-400, 370], "nice": false, "zero": false}, "axis": {"values": [-400,-200,0,200], "format": "d", "title": "ẑ₆(t)"}},
  "color": {"field": "n", "type": "nominal", "scale": {"domain": ["#1) Measured Ū (R=1e-6,Q=1e0)", "#2) Optimized Ū (R=1e-6,Q=1e0)", "#3) Optimized Ū (R=1e-7,Q=1e0)", "#4) Optimized Ū (R=1e-7,Q=1e-1)"], "range": ["#000000", "#0000ff", "#ff0000", "#1a8c1a"]}, "legend": {"title": null}},
  "strokeDash": {"field": "n", "type": "nominal", "scale": {"domain": ["#1) Measured Ū (R=1e-6,Q=1e0)", "#2) Optimized Ū (R=1e-6,Q=1e0)", "#3) Optimized Ū (R=1e-7,Q=1e0)", "#4) Optimized Ū (R=1e-7,Q=1e-1)"], "range": [[1,0],[6,4],[8,3,2,3],[2,2]]}, "legend": {"title": null}}
 }},
{"width": 201, "height": 63, "transform": [{"filter": "datum.r==12"}],
 "mark": {"type": "line", "strokeWidth": 1.5, "clip": true},
 "encoding": {
  "x": {"field": "t", "type": "quantitative", "scale": {"domain": [1200, 1300], "nice": false, "zero": false}, "axis": {"values": [1200,1250,1300], "format": "d", "title": "Time [s]"}},
  "y": {"field": "v", "type": "quantitative", "scale": {"domain": [-330, 300], "nice": false, "zero": false}, "axis": {"values": [-200,0,200], "format": "d", "title": null}},
  "color": {"field": "n", "type": "nominal", "scale": {"domain": ["#1) Measured Ū (R=1e-6,Q=1e0)", "#2) Optimized Ū (R=1e-6,Q=1e0)", "#3) Optimized Ū (R=1e-7,Q=1e0)", "#4) Optimized Ū (R=1e-7,Q=1e-1)"], "range": ["#000000", "#0000ff", "#ff0000", "#1a8c1a"]}, "legend": {"title": null}},
  "strokeDash": {"field": "n", "type": "nominal", "scale": {"domain": ["#1) Measured Ū (R=1e-6,Q=1e0)", "#2) Optimized Ū (R=1e-6,Q=1e0)", "#3) Optimized Ū (R=1e-7,Q=1e0)", "#4) Optimized Ū (R=1e-7,Q=1e-1)"], "range": [[1,0],[6,4],[8,3,2,3],[2,2]]}, "legend": {"title": null}}
 }}
]
}
